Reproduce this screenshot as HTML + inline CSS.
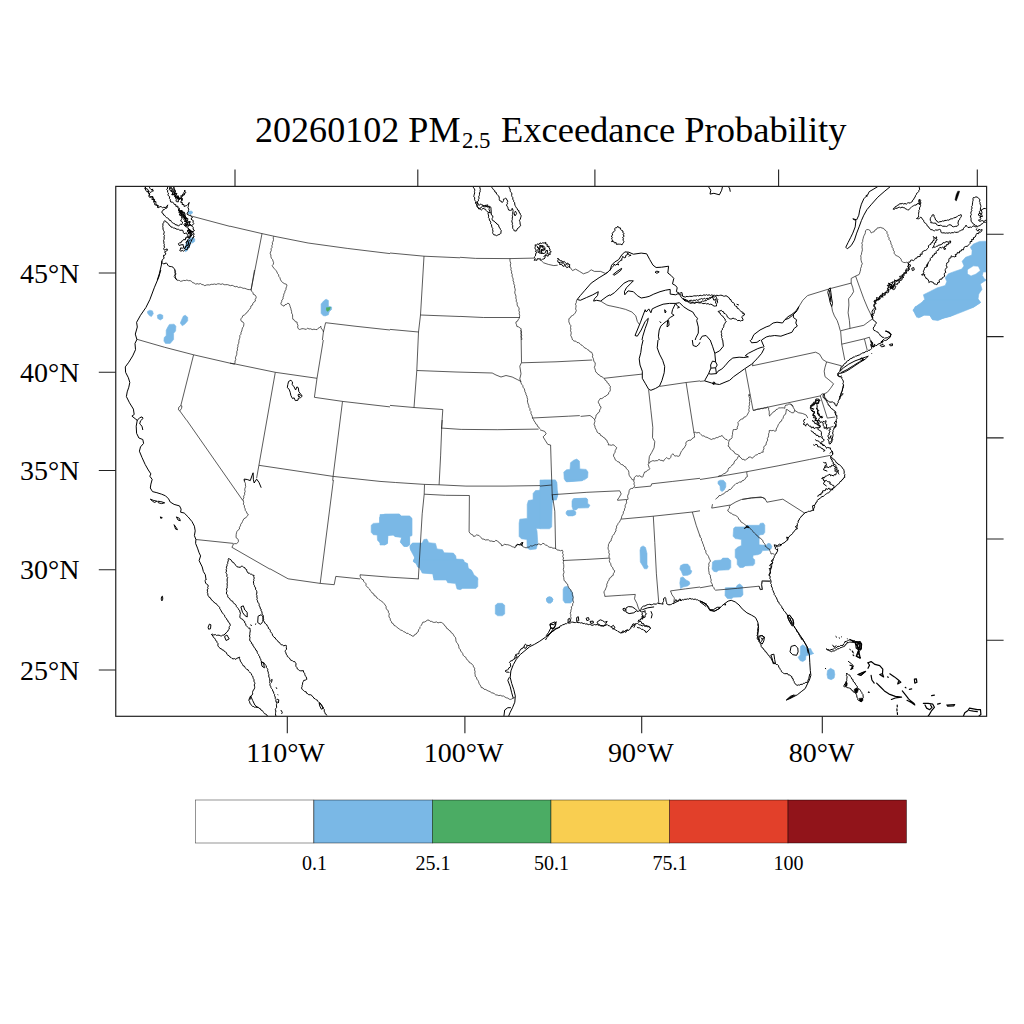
<!DOCTYPE html>
<html><head><meta charset="utf-8"><title>PM2.5 Exceedance Probability</title>
<style>
html,body{margin:0;padding:0;background:#fff;}
body{width:1024px;height:1024px;overflow:hidden;position:relative;font-family:"Liberation Serif",serif;}
svg{position:absolute;left:0;top:0;}
text{font-family:"Liberation Serif",serif;fill:#000;}
</style></head><body>
<svg width="1024" height="1024" viewBox="0 0 1024 1024">
<defs><clipPath id="fr"><rect x="115.75" y="186.40" width="870.85" height="529.90"/></clipPath></defs>
<text x="255" y="142.3" font-size="36" textLength="205.5" lengthAdjust="spacingAndGlyphs">20260102 PM</text>
<text x="462" y="147.6" font-size="24" textLength="28.5" lengthAdjust="spacingAndGlyphs">2.5</text>
<text x="501" y="142.3" font-size="36" textLength="345.5" lengthAdjust="spacingAndGlyphs">Exceedance Probability</text>
<g clip-path="url(#fr)">
<g fill="#7ab8e6" stroke="#7ab8e6" stroke-width="0.6" stroke-linejoin="round">
<path d="M188.1 211.2L191.5 211.1L193.0 212.5L191.0 214.2L188.4 214.0Z"/>
<path d="M189.6 238.6L193.0 237.6L194.9 239.1L194.6 241.5L192.5 243.0L190.5 242.5L190.5 244.9L188.6 247.4L187.1 250.8L185.2 251.8L184.7 248.4L185.7 244.5L187.1 240.5Z"/>
<path d="M147.5 311.4L149.8 310.2L152.5 310.9L153.3 313.8L151.4 316.6L149.4 315.6L147.5 313.0Z"/>
<path d="M157.3 315.3L160.0 314.1L162.8 315.3L162.8 318.4L160.3 320.0L157.7 318.4Z"/>
<path d="M183.4 316.1L185.3 315.3L187.7 317.3L187.7 320.8L185.0 323.9L182.3 325.8L180.3 323.1L181.9 319.2Z"/>
<path d="M169.4 324.4L174.1 324.2L175.9 326.2L175.6 330.9L173.6 333.3L173.6 339.5L170.2 343.4L165.5 343.4L163.9 341.1L164.2 337.5L166.2 335.6L166.2 330.2L167.8 327.0Z"/>
<path d="M321.1 303.9L323.8 300.8L326.1 299.2L328.4 300.5L328.4 306.2L331.6 307.0L331.6 309.4L329.2 311.7L328.4 314.8L325.3 315.9L323.0 315.6L321.1 313.3Z"/>
<path d="M986.7 241.2L979.6 241.4L973.4 244.1L970.2 247.2L972.1 250.3L971.8 255.0L965.6 257.3L962.1 261.2L964.0 265.9L961.7 269.1L954.6 271.4L948.4 273.8L945.2 277.7L946.8 281.6L945.2 285.5L937.4 287.8L929.6 291.7L923.4 294.8L924.9 300.3L917.9 305.0L913.2 309.7L915.6 315.2L918.7 317.8L924.2 315.2L929.6 315.2L932.8 319.8L939.0 319.8L945.2 317.5L951.5 315.9L957.8 313.6L965.6 310.5L973.4 307.3L980.4 302.7L978.1 298.8L978.8 294.1L982.0 289.4L980.4 283.9L985.1 280.8L987.4 280.0L987.4 241.2Z"/>
<path d="M380.0 514.5L399.5 514.2L401.1 516.1L409.7 516.1L412.0 518.4L412.0 535.6L409.7 536.4L409.7 545.0L407.3 546.6L404.2 546.2L400.3 541.9L401.9 536.9L394.8 536.4L393.3 534.8L387.8 535.3L387.5 543.4L384.7 545.0L380.0 545.0Z"/>
<path d="M410.5 545.0L412.8 543.1L422.2 543.1L423.8 539.5L426.9 539.1L428.8 542.7L435.5 543.4L437.0 548.9L442.5 549.7L444.1 552.8L453.4 553.1L455.8 555.9L456.2 559.1L462.8 559.4L464.4 562.2L467.5 563.4L468.3 568.4L471.4 570.0L473.8 574.7L477.7 577.8L477.7 580.0L433.9 580.0L433.1 573.9L422.2 573.1L419.8 567.7L417.5 566.9L416.2 563.0L413.6 561.9L414.7 557.5L412.0 552.8L410.0 548.1Z"/>
<path d="M540.0 490.3L535.5 490.6L533.1 493.4L533.1 499.7L528.4 500.5L527.2 504.4L527.2 518.4L519.8 519.2L519.1 523.1L519.1 536.4L521.4 538.8L526.9 539.5L527.2 548.1L530.0 549.7L536.2 548.9L537.8 543.4L537.0 530.9L536.2 528.6L540.0 528.6Z"/>
<path d="M570.5 462.7L573.6 460.3L576.7 459.1L579.4 461.1L579.8 468.9L586.1 469.4L588.0 472.0L587.7 477.5L584.5 479.8L580.6 480.6L571.2 481.4L566.6 481.9L564.2 479.1L563.8 472.0L566.6 469.7L570.0 469.4Z"/>
<path d="M540.0 490.0L541.6 480.6L544.7 480.2L554.8 480.2L556.9 482.2L556.9 490.0L558.0 493.9L556.4 500.0L540.0 500.0Z"/>
<path d="M573.6 500.0L574.4 498.6L586.9 498.6L587.7 500.0Z"/>
<path d="M718.0 481.4L720.3 480.2L723.4 480.3L725.8 483.0L725.8 486.9L724.2 490.0L721.9 491.6L720.3 490.0L720.0 486.1L718.0 483.8Z"/>
<path d="M923.8 300.0L920.6 304.7L915.2 306.6L913.1 310.6L915.2 313.3L916.7 317.2L920.6 316.9L923.8 314.8L930.0 315.3L932.3 319.5L937.8 320.6L942.5 318.4L950.3 316.4L958.1 312.5L965.9 309.4L973.8 307.0L980.8 302.3L978.4 300.0Z"/>
<path d="M379.5 517.5L381.1 515.2L385.0 514.1L399.1 514.1L401.4 516.2L409.2 516.2L411.6 518.3L411.6 534.7L409.2 536.2L409.2 544.1L406.9 546.4L403.8 546.4L400.6 542.5L401.9 537.5L395.2 536.6L393.6 535.0L387.8 535.5L387.3 543.3L385.0 544.8L381.1 544.1L377.5 540.2L377.2 535.0L373.3 534.7L371.2 532.3L371.2 525.3L373.3 523.4L379.5 523.0Z"/>
<path d="M420.0 543.3L412.3 543.3L410.0 546.4L410.8 550.3L413.9 553.4L414.7 558.1L413.1 561.2L416.2 563.6L418.6 567.5L420.0 567.5Z"/>
<path d="M413.3 560.0L414.8 562.3L418.8 563.1L420.3 569.4L423.4 572.8L432.8 573.3L433.6 578.0L436.7 579.5L446.1 579.5L447.7 582.7L455.5 583.4L457.0 588.9L460.2 589.7L462.5 588.4L475.8 588.4L477.8 586.6L477.8 578.8L475.8 576.9L473.4 576.4L472.7 572.5L470.3 569.7L468.0 568.6L467.2 563.9L464.1 562.3L463.8 560.0Z"/>
<path d="M495.3 605.3L497.7 603.3L502.3 603.3L504.7 605.3L504.7 613.9L502.3 615.8L497.7 615.8L495.3 613.9Z"/>
<path d="M546.4 599.1L547.7 597.5L549.5 596.9L551.6 597.5L552.8 599.4L552.3 601.4L550.5 603.0L548.4 603.0L546.9 601.4Z"/>
<path d="M540.0 480.0L555.6 480.0L556.9 484.7L557.5 495.6L556.4 498.8L553.3 500.0L552.2 503.4L551.7 526.9L549.4 528.8L540.0 528.8Z"/>
<path d="M573.1 498.8L586.1 498.0L587.7 500.3L587.7 503.4L590.0 505.3L588.4 507.8L578.3 508.1L575.9 510.0L573.1 509.7L572.0 506.6L572.0 501.1Z"/>
<path d="M567.3 510.5L573.6 510.0L575.9 512.0L575.6 514.7L572.8 515.9L568.1 515.9L566.1 514.1L566.1 512.0Z"/>
<path d="M565.0 480.0L583.0 480.0L582.2 480.8L569.7 481.6L565.8 481.2Z"/>
<path d="M640.8 547.2L643.1 545.9L645.5 547.5L647.0 553.4L647.0 564.4L648.1 566.7L647.0 568.8L644.4 568.8L642.3 565.2L640.3 562.0L640.0 550.3Z"/>
<path d="M680.6 565.6L683.8 564.1L687.7 564.1L690.0 566.7L690.3 569.8L691.9 570.9L690.8 573.8L687.7 575.3L683.0 575.6L681.4 571.4L679.8 569.1Z"/>
<path d="M680.6 577.7L683.0 576.9L686.1 580.0L689.2 581.6L690.0 583.9L687.7 585.9L683.0 587.0L680.6 588.6L679.8 583.1Z"/>
<path d="M564.2 587.0L567.3 586.2L570.0 589.4L572.0 591.7L573.1 595.6L572.8 601.1L570.5 603.0L565.0 603.0L563.1 600.3L563.1 589.4Z"/>
<path d="M546.4 598.8L547.5 597.3L549.5 596.7L551.6 597.3L552.8 599.2L552.3 601.4L550.5 603.0L548.4 603.0L546.9 601.6Z"/>
<path d="M733.6 528.4L735.2 526.9L745.3 526.9L746.9 525.3L759.4 525.3L760.2 523.4L763.3 523.0L764.8 525.3L764.8 532.3L763.3 534.4L759.1 535.0L759.1 544.8L766.4 545.3L768.0 543.3L770.3 543.8L771.9 546.4L771.1 548.8L768.8 550.3L762.5 550.6L760.9 553.4L757.8 554.7L753.1 555.3L752.8 558.1L754.7 559.7L754.7 563.6L753.1 565.6L745.3 565.9L743.0 567.5L739.8 567.5L737.2 564.4L737.2 559.7L735.2 557.3L735.2 549.5L737.5 547.2L741.4 545.6L741.4 539.4L735.2 538.6L733.1 536.2Z"/>
<path d="M712.5 562.0L714.8 560.5L721.1 560.0L722.7 558.1L728.1 558.1L730.8 560.5L730.8 567.5L728.9 569.8L718.8 570.3L716.4 571.9L713.8 571.4L712.0 569.1Z"/>
<path d="M725.3 587.8L735.9 587.5L737.5 585.0L739.8 583.9L742.5 586.2L743.0 594.8L740.9 596.9L733.6 597.2L731.2 598.8L727.3 598.4L725.0 595.6Z"/>
<path d="M800.5 646.4L802.8 644.8L805.2 646.4L806.7 648.8L810.6 648.4L812.2 651.9L813.8 653.4L810.6 654.7L805.9 655.8L805.6 659.7L802.8 661.6L800.0 660.5L798.1 657.3L800.2 655.0Z"/>
<path d="M827.5 670.6L830.6 668.3L834.1 670.3L834.8 674.5L834.1 678.1L831.2 679.7L827.8 678.4L827.0 674.5Z"/>
</g>
<g fill="#ffffff" stroke="#ffffff" stroke-width="0.3">
<path d="M967.9 269.8L973.4 266.2L978.1 266.7L979.9 270.6L975.7 273.8L971.0 275.6L967.9 273.8Z"/>
<path d="M987.4 272.2L983.5 272.5L982.8 275.3L984.6 278.4L987.4 280.0Z"/>
</g>
<g fill="#4bac64" stroke="none">
<path d="M326.1 307.5L330.8 307.0L330.0 309.4L327.7 311.7L326.1 310.2Z"/>
</g>
<g fill="#000" stroke="#000" stroke-width="0.5">
<path d="M957.8 191.2L956.2 194.8L955.1 199.5L956.2 201.1L957.4 198.0L959.0 193.3L959.6 191.2Z"/>
<path d="M786.4 700.0L790.6 696.6L795.3 695.0L792.3 697.2Z"/>
<path d="M854.1 689.4L856.6 687.8L858.4 689.4L857.5 692.2L855.9 693.4L854.4 691.6Z"/>
<path d="M859.1 698.4L862.8 698.0L862.8 700.5L861.4 702.0L859.4 700.8Z"/>
<path d="M845.8 681.6L847.3 683.1L846.9 686.2L845.0 685.9Z"/>
</g>
<g fill="none" stroke="#1a1a1a" stroke-width="0.72" stroke-linejoin="round">
<path d="M191.5 216.1L230.0 226.4"/>
<path d="M174.8 270.0L174.6 271.6L175.1 273.3L174.8 274.9L174.1 276.5L175.0 278.0L176.6 278.8L177.3 280.6L179.0 280.2L180.5 281.3L182.1 281.0L183.6 280.4L185.3 280.6L186.9 280.0L188.4 280.7L190.1 280.6L191.6 281.4L192.6 282.7L194.4 283.0L195.6 284.3L197.1 283.6L198.8 284.1L200.4 283.5L201.8 284.5L203.4 284.8L204.8 285.7L206.4 285.0L208.0 284.8L209.7 285.0L211.2 284.3L212.9 284.4L214.5 284.0L216.1 284.5L217.7 283.8L219.3 283.8L220.9 284.4L222.6 283.8L224.2 284.7L225.8 284.7L227.4 284.6L228.9 285.1L230.4 285.7L232.2 285.3L233.7 286.0L235.2 286.8L236.9 286.4L238.4 287.5L240.1 287.1L241.6 287.6L243.1 288.3L244.8 288.3L246.3 288.9L247.9 289.5L249.5 289.6L251.1 289.8"/>
<path d="M254.5 270.0L251.1 289.8"/>
<path d="M251.1 289.8L251.7 291.3L252.9 292.6L253.3 294.3L254.9 294.9L255.9 296.2L256.2 297.9L255.2 299.3L255.4 301.1L253.9 302.1L252.9 303.4L252.5 305.1L250.9 306.0L250.7 307.7L249.8 309.1L248.5 310.2L247.9 311.7L246.5 312.6L245.6 314.1L244.3 315.0L242.8 315.7L242.2 317.3L241.1 318.6L240.7 319.9L241.5 321.4L243.1 322.1L243.9 323.6L243.8 324.8L243.5 326.5L242.5 327.8L242.1 329.4L241.8 331.0L241.0 332.4L241.0 334.2L239.8 335.5L239.9 337.2L239.5 338.7L238.9 340.3L238.9 341.9L238.6 343.5L237.8 345.0L238.0 346.7L237.3 348.2L237.6 350.0L236.8 351.4L236.8 353.1L236.7 354.7L236.0 356.2L235.4 357.8L235.8 359.5L235.0 361.0L235.0 362.7L234.5 364.2"/>
<path d="M136.6 339.2L164.7 347.3L193.6 354.8L234.5 364.2"/>
<path d="M193.6 354.8L180.8 405.6"/>
<path d="M180.8 405.6L178.8 407.2L178.4 409.8L179.8 410.9L181.6 408.3L181.9 405.9L180.8 405.6"/>
<path d="M179.8 410.9L186.4 420.0"/>
<path d="M230.0 226.2L262.0 233.6L273.8 236.2L308.1 243.0L347.2 248.4L390.0 253.6"/>
<path d="M262.0 233.6L251.1 289.8"/>
<path d="M273.8 236.2L273.2 237.8L273.5 239.5L273.2 241.1L272.3 242.5L272.6 244.2L271.8 245.7L272.1 247.4L271.0 248.8L271.3 250.5L270.5 252.0L270.2 253.6L270.9 255.0L270.9 256.7L271.4 258.3L272.6 259.6L273.0 261.1L273.6 262.6L273.3 264.3L272.2 265.6L272.9 266.9L273.9 268.2L275.0 269.4L276.1 270.6L276.9 271.9L277.5 273.5L278.6 274.7L278.8 276.4L279.9 277.6L280.3 279.2L280.9 280.7L282.2 281.8L283.3 283.1L284.8 283.8L286.3 284.2L287.0 285.0L286.6 286.5L286.0 288.0L285.9 289.7L284.9 291.0L284.7 292.7L283.8 294.0L283.7 295.7L283.0 297.2L283.1 298.9L281.8 300.1L281.7 301.8L280.8 303.2L281.3 304.7L282.8 305.5L284.0 306.2L285.0 304.7L286.7 304.3L287.8 303.1L289.2 303.8L289.8 305.4L290.2 306.8L290.8 308.3L291.1 309.9L291.6 311.4L291.6 313.1L292.5 314.5L292.6 316.1L292.6 317.7L292.9 319.3L294.5 320.2L295.3 321.7L297.1 322.1L297.2 323.8L298.0 325.3L297.6 327.0L298.2 328.6L299.6 329.5L300.3 329.3L301.9 328.7L303.3 328.7L304.9 329.1L306.3 329.4L307.6 328.1L309.0 329.0L310.7 328.8L312.2 329.6L313.9 329.2L315.4 329.5L317.1 329.6L318.1 328.3L319.6 327.5L320.8 326.2L321.0 327.8L321.8 329.3L323.1 330.4L323.4 332.0"/>
<path d="M325.6 322.7L323.4 332.0L322.4 340.0"/>
<path d="M325.6 322.7L355.0 326.2L390.0 330.0"/>
<path d="M230.0 363.1L234.2 363.8L275.3 372.3L317.0 378.3"/>
<path d="M275.3 372.3L258.9 465.3L256.6 478.3"/>
<path d="M323.3 340.0L317.0 378.3L314.4 397.3"/>
<path d="M314.4 397.3L342.5 401.4L390.0 406.9"/>
<path d="M342.5 401.4L333.1 476.4L332.7 480.6"/>
<path d="M258.9 465.3L333.1 476.4L380.0 481.4"/>
<path d="M186.6 420.0L242.8 500.5"/>
<path d="M244.7 480.2L244.6 481.8L245.4 483.3L245.4 485.0L245.7 486.6L245.0 488.2L244.7 489.8L245.2 491.5L244.5 493.0L244.7 494.7L243.6 496.1L243.9 497.9L242.9 499.3L243.3 500.9L243.7 502.5L243.3 504.2L244.4 505.6L244.4 507.4L245.2 508.8L245.3 510.5L246.5 511.8L246.9 513.4L248.3 514.4L247.8 515.5L246.6 516.6L245.6 518.0L244.0 518.6L243.2 520.0L242.5 521.5L241.8 523.0L240.7 524.2L240.5 525.9L239.4 527.2L239.5 529.0L238.0 530.1L237.0 531.3L236.5 532.8L236.2 534.4L236.1 536.0L236.0 537.6L237.4 538.5L238.2 539.7L238.5 541.3L237.8 542.6L236.4 543.7L234.7 543.6L233.1 544.3L232.7 545.9L231.9 547.3"/>
<path d="M195.9 539.5L233.4 543.4"/>
<path d="M231.9 547.3L270.0 569.2"/>
<path d="M424.0 256.2L420.5 315.0L418.5 332.0L416.8 370.5L414.0 407.5"/>
<path d="M390.0 329.4L418.5 332.0"/>
<path d="M390.0 253.0L424.0 256.2L460.0 257.8"/>
<path d="M420.5 315.0L460.0 316.5"/>
<path d="M416.8 370.5L456.0 372.0L492.2 373.0L496.0 375.0L501.0 377.0L506.0 375.5L512.2 377.0L517.2 379.5L520.5 381.2"/>
<path d="M390.0 405.4L414.0 407.5L442.8 409.5"/>
<path d="M442.8 409.5L441.5 428.8"/>
<path d="M521.0 330.0L521.5 362.5"/>
<path d="M521.5 362.5L519.8 366.2L521.0 373.8L519.8 378.8L521.0 382.0"/>
<path d="M521.5 362.8L556.0 361.8L592.2 360.0"/>
<path d="M520.5 381.2L521.0 382.8L521.7 384.3L522.8 385.5L523.0 387.2L524.1 388.5L524.7 390.0L524.9 391.7L525.8 393.1L526.0 394.7L526.9 396.1L527.1 397.7L527.7 399.3L527.4 401.0L527.7 402.6L528.2 404.1L528.8 405.6L528.9 407.3L530.0 408.7L529.9 410.4L531.1 411.7L530.9 413.4L531.7 414.9L532.3 416.4L532.5 418.1L533.5 419.3L534.0 420.9L535.1 422.1L535.6 423.7L537.1 424.6L537.5 426.4L539.0 427.3L539.8 428.8"/>
<path d="M532.2 418.0L568.5 416.2L579.8 415.6"/>
<path d="M460.0 257.3L475.6 258.4L510.0 258.6L534.2 258.1"/>
<path d="M541.2 260.5L543.6 262.8L548.3 264.4L553.8 265.6L557.7 265.2"/>
<path d="M570.2 267.5L572.5 270.6L575.6 269.1L579.5 271.4L583.4 273.8L588.1 272.2L591.2 269.8L594.4 271.4L600.6 271.4L605.3 273.4L607.7 272.2"/>
<path d="M510.0 258.6L509.9 260.2L510.2 261.8L510.8 263.3L510.3 265.0L510.5 266.6L511.2 268.1L510.8 269.8L511.7 271.3L511.4 273.0L512.3 274.4L512.0 276.1L512.7 277.6L513.2 279.1L513.0 280.8L513.9 282.2L513.7 283.9L514.7 285.3L514.4 287.0L515.0 288.6L515.3 290.1L514.8 291.8L514.9 293.4L515.6 294.9L516.0 296.5L515.8 298.1L516.4 299.6L516.2 301.3L517.2 302.8L517.1 304.4L517.5 306.0L518.6 307.3L519.2 308.8L518.8 310.5L519.5 312.1L519.2 313.7L519.7 315.3L519.5 316.9L519.3 318.4L518.1 319.5L517.6 321.1L516.0 321.9L515.9 323.2L516.5 324.7L516.9 326.5L518.6 326.8L519.8 328.0L521.3 328.8L520.8 330.4L521.6 332.0L521.1 333.6L521.8 335.2L521.1 336.8L521.8 338.4L521.7 340.0"/>
<path d="M460.0 316.4L483.4 317.5L519.7 317.5"/>
<path d="M577.2 299.5L576.4 300.9L576.3 302.7L575.4 304.1L576.1 305.7L575.9 307.3L575.6 308.9L576.3 310.5L575.7 312.1L575.1 313.1L574.0 314.5L572.7 315.4L571.2 316.1L570.5 317.6L568.9 318.6L568.9 320.2L568.8 321.8L569.4 323.1L570.0 324.7L571.0 325.8L570.5 327.4L570.9 329.1L570.5 330.7L571.2 332.3L571.1 333.9L570.7 335.5L571.5 336.9L572.1 338.4L572.5 340.0"/>
<path d="M600.6 301.1L606.9 305.0L610.0 305.9"/>
<path d="M610.0 305.8L619.4 307.8L625.6 309.4L631.9 312.0L635.8 315.9L637.3 321.4L639.4 324.5"/>
<path d="M798.9 306.6L802.8 300.3L807.5 295.6L830.2 288.6L851.2 283.1"/>
<path d="M851.2 283.1L851.2 278.4L855.6 276.1L859.1 274.5"/>
<path d="M859.1 274.5L859.7 273.1L860.1 271.5L860.6 270.0L860.6 268.3L861.4 266.8L861.5 265.2L862.4 263.8L861.6 262.2L861.2 260.6L860.9 259.1L861.0 257.4L860.7 255.8L861.5 254.3L861.6 252.7L862.1 251.2L862.4 249.6L862.1 247.9L862.0 246.3L862.4 244.7L861.7 243.1L862.7 241.6L862.7 239.9L863.2 238.4L863.5 236.8L864.2 235.3L865.0 233.9L865.4 232.4L865.5 230.7L866.8 229.6L868.5 229.6L869.7 230.2L870.5 231.5L871.3 233.0L872.5 232.2L874.2 231.7L874.9 230.1L876.5 229.4L877.3 227.9L878.9 227.8L880.5 227.4L882.0 228.0L883.6 228.4L884.6 229.8L886.0 230.7L887.0 231.8L887.0 233.5L888.1 234.8L887.9 236.6L889.2 237.9L889.0 239.6L890.3 240.9L890.8 242.4L891.0 244.1L892.0 245.4L891.9 247.1L893.1 248.4L893.2 250.1L894.3 251.4L894.1 253.2L895.0 254.6L896.1 255.5L897.6 256.2L898.9 256.9L900.1 257.9L901.1 259.2L901.5 260.8L902.6 262.1L903.6 262.4L905.3 262.6L906.8 262.2L908.3 262.8"/>
<path d="M855.6 276.1L859.8 287.8L863.8 298.8L867.7 308.1L870.8 314.4L872.3 317.5"/>
<path d="M851.2 283.1L852.8 287.8L853.6 291.7L851.2 295.6L848.6 298.8L848.9 305.0L848.1 312.8L849.4 320.6L850.0 328.4"/>
<path d="M831.7 306.6L832.5 311.2L834.4 315.9L837.2 320.6L838.8 325.3L840.3 330.8"/>
<path d="M840.6 330.8L850.0 328.4L863.8 325.3L870.0 320.6L872.3 319.1"/>
<path d="M442.2 420.0L441.7 428.1L440.6 455.9L439.1 484.8"/>
<path d="M441.7 428.1L461.2 429.4L497.2 429.7L538.6 429.1"/>
<path d="M380.0 481.4L395.6 482.5L424.5 484.4L439.1 484.8L465.9 486.1L505.0 486.1L540.0 485.6"/>
<path d="M424.5 484.4L424.2 494.2"/>
<path d="M424.2 494.2L445.6 495.3L469.4 495.5"/>
<path d="M469.4 495.5L469.1 531.7"/>
<path d="M424.2 494.2L422.2 513.8L420.3 545.0L418.3 579.1"/>
<path d="M469.1 531.7L469.9 533.2L471.1 534.2L472.8 534.9L473.5 536.4L475.2 536.1L476.5 534.9L478.2 535.3L479.1 535.5L480.2 536.7L481.4 537.9L482.3 539.1L483.9 539.1L485.4 540.0L487.0 539.8L488.6 539.9L489.9 541.1L491.8 541.0L493.0 541.5L494.7 541.5L495.9 540.2L497.3 541.1L498.7 541.9L499.6 543.3L501.2 544.1L501.6 545.8L503.3 545.4L504.4 544.1L506.1 544.7L507.7 544.7L509.3 545.2L510.8 545.8L512.2 546.7L513.8 547.1L515.0 548.0L515.4 546.3L516.3 545.0L517.7 544.6L519.4 544.6L521.1 545.1L521.8 543.4L522.7 542.8L522.3 544.4L522.2 546.0L523.2 546.8L524.7 547.4L526.1 547.9L527.5 547.2L529.2 547.1L530.5 545.8L532.2 546.1L533.7 545.4L535.2 544.7L536.8 544.9L538.3 544.0L540.0 544.2"/>
<path d="M572.8 340.0L574.0 341.1L575.8 341.1L577.0 342.5L578.7 342.7L580.0 343.7L581.0 344.9L582.5 345.6L583.7 346.8L584.7 348.0L586.4 348.5L587.5 349.7L589.0 350.3L589.9 351.8L591.6 352.2L592.3 353.7L592.8 355.2L592.4 356.9L593.3 358.4L593.6 359.8L593.9 361.6L595.2 362.6L595.2 364.2L595.0 365.8L594.3 367.3L594.9 368.7L595.4 370.3L595.7 371.9L596.9 372.8L597.9 374.3L599.4 374.9L600.4 376.3L602.0 376.7L603.2 377.8L604.6 378.7L605.2 380.3L606.7 381.1L607.2 382.8L608.7 383.6L609.2 385.3L610.5 386.4L610.0 388.0L610.4 389.6L610.0 391.2L608.8 392.4L608.5 394.1L607.1 394.9L606.0 396.1L604.4 396.6L603.2 397.7L601.8 398.6L600.1 398.6L599.4 399.8L598.4 401.3L598.4 402.9L599.5 404.2L599.8 405.9L601.1 406.9L600.6 408.6L599.6 410.0L599.6 411.7L598.2 412.6L597.4 414.1L596.0 415.1L595.9 416.7L595.4 418.3L594.6 419.7L595.0 421.4L594.4 422.9L594.1 424.5L594.9 426.0L595.1 427.6L595.9 429.1L596.6 430.3L597.1 432.1L598.3 433.2L600.0 433.7L600.6 435.5L602.2 436.0L603.2 437.3L604.8 438.0L605.5 439.5L607.0 440.3L607.3 442.0L608.4 443.3L608.3 445.0L609.7 444.9L611.4 445.3L613.0 444.7L614.4 445.4L615.5 446.6L616.7 447.6L616.1 449.1L615.2 450.5L615.1 452.2L614.2 453.6L613.5 455.0L613.7 456.6L614.7 457.9L615.0 459.6L616.4 460.5L617.5 461.7L619.2 462.0L620.1 463.6L621.4 464.5L623.0 464.9L624.1 466.3L625.7 466.9L626.2 468.5L627.5 469.5L628.5 470.8L628.9 472.5L628.9 474.1L629.4 475.7L630.3 477.0L631.3 478.2L632.1 479.7L633.8 479.8"/>
<path d="M604.1 378.3L622.8 376.2L642.3 374.1"/>
<path d="M580.6 416.4L590.0 415.5L593.1 417.8L594.7 419.7"/>
<path d="M648.6 389.7L650.9 410.3L652.8 427.5L652.5 437.7L654.8 441.6L654.1 447.8L651.7 452.5L649.4 456.4L648.6 463.4"/>
<path d="M659.5 386.4L686.1 382.5L700.0 380.9"/>
<path d="M686.1 382.5L693.9 432.2"/>
<path d="M700.0 433.0L698.4 432.5L696.8 432.9L695.3 432.2L693.7 432.5L694.5 434.0L694.4 435.6L694.6 437.2L693.1 437.9L691.8 438.9L690.7 440.3L689.1 440.2L687.6 441.0L686.5 441.6L685.8 443.1L686.0 444.8L685.1 446.2L684.5 447.7L683.1 448.7L682.5 450.2L681.3 451.3L680.7 452.8L680.1 454.3L679.5 455.8L678.2 456.4L676.7 455.8L675.0 456.1L673.7 455.0L672.8 453.7L672.2 454.4L671.1 455.6L670.8 457.3L669.8 458.6L669.0 459.0L667.4 458.3L666.6 457.5L665.5 458.7L664.3 459.7L663.5 461.2L662.0 460.4L660.3 460.3L659.0 459.3L657.6 460.6L655.9 460.7L654.4 461.0L652.9 460.6L651.7 461.2L650.2 461.8L649.2 463.2L648.2 464.4L648.7 466.0L649.1 467.5L650.0 468.6L648.9 469.7L647.3 470.3L646.3 471.7L644.6 472.0L644.1 473.4L643.4 474.9L643.0 476.5L642.6 477.1L641.0 476.8L639.8 475.7L638.0 476.3L636.4 475.7L635.3 476.5L634.2 477.8L634.2 479.5L633.6 481.0L634.3 482.5L633.9 484.1L634.7 485.7L634.1 487.0L633.0 488.3L631.3 488.5L629.9 489.2L629.2 490.5L629.0 492.1L628.7 493.7L627.8 495.2L627.6 496.8L628.0 498.5L627.5 500.0"/>
<path d="M634.5 487.7L650.9 486.1L651.7 483.8L672.8 481.4L700.0 478.3"/>
<path d="M552.5 494.7L586.9 492.3L619.7 490.8L621.2 493.9L618.9 497.8L617.3 500.0"/>
<path d="M540.0 429.8L544.7 431.4L546.2 433.8L543.1 436.9L545.5 440.8L547.8 444.4L550.6 445.0L551.2 465.0L552.2 494.7L552.5 500.0"/>
<path d="M540.0 486.1L551.7 485.0"/>
<path d="M700.0 381.4L704.7 380.9"/>
<path d="M745.3 368.9L753.1 410.3"/>
<path d="M752.3 365.8L753.1 363.4"/>
<path d="M752.3 365.8L778.1 360.3L815.6 352.2L819.5 354.1L822.7 359.5L826.6 361.9L825.0 367.3L824.2 371.2L825.0 376.7L828.9 379.8L833.6 383.8L830.5 388.4L827.3 392.3L824.2 393.9"/>
<path d="M826.6 361.9L841.4 365.8L839.4 372.0"/>
<path d="M753.1 410.3L785.9 403.3L820.3 395.9L821.9 393.9L824.2 393.9"/>
<path d="M820.3 395.9L827.3 418.1L835.2 417.0"/>
<path d="M749.2 395.0L749.0 396.6L749.7 398.2L749.4 399.9L749.8 401.5L749.3 403.1L749.6 404.8L748.9 406.3L749.4 408.0L748.7 409.6L749.2 411.3L748.4 412.6L747.7 414.1L746.8 415.5L745.7 416.8L743.9 417.2L743.1 418.8L741.3 419.2L740.0 420.0L738.9 421.4L737.9 422.4L738.3 424.1L738.0 425.7L737.2 427.2L737.3 428.9L736.2 429.5L734.5 429.5L733.3 429.6L732.9 431.2L732.5 432.8L732.6 434.5L732.0 436.0L732.1 437.7L731.0 439.0L729.4 439.7L729.0 441.3L728.5 442.8L728.7 444.5L728.0 446.1L729.5 447.0L730.0 448.8L731.4 449.7L732.5 450.8L734.0 451.6L734.7 453.3L736.2 454.1L737.8 454.6L739.1 455.6"/>
<path d="M748.6 394.7L749.4 394.1L750.0 395.0L749.2 395.8L748.6 394.7"/>
<path d="M739.1 455.6L738.0 456.8L737.4 458.4L736.5 459.7L735.0 460.6L734.2 462.0L733.8 463.8L732.3 464.6L731.5 466.0L730.3 467.2L728.8 468.0L728.1 469.5L727.8 471.2L726.2 472.0L725.3 473.4L723.6 473.8L722.4 474.7L721.0 475.7L719.3 475.7L718.0 476.7"/>
<path d="M700.0 433.4L701.1 434.7L702.3 435.8L704.0 435.9L705.4 437.0L707.0 437.3L708.4 438.1L709.9 438.8L711.4 439.5L713.0 438.7L714.7 438.7L716.1 437.6L717.8 437.6L719.2 436.5L720.8 436.3L722.1 435.4L723.0 436.8L724.1 438.0L725.3 439.1L727.0 439.6L728.1 440.8"/>
<path d="M739.1 455.6L739.8 457.0L741.2 458.0L742.2 459.4L743.9 459.4L745.2 460.4L746.3 459.1L747.9 458.4L748.8 457.0L750.6 457.1L752.1 458.2L753.4 457.4L754.4 456.1L755.7 455.1L757.3 454.7L758.5 453.5L760.3 453.5L761.4 452.2L763.2 452.2L763.1 450.3L764.0 448.8L763.7 447.2L764.7 445.7L766.1 444.8L766.2 443.1L766.8 441.6L767.7 440.1L767.3 438.4L768.3 437.0L768.6 435.4L768.6 433.7L769.3 432.3L769.2 430.6L770.2 430.4L771.8 430.7L773.6 430.4L774.9 431.3L776.2 430.7L776.2 429.0L777.0 427.6L777.8 426.2L778.2 424.6L779.3 423.5L780.0 421.9L781.5 421.1L781.9 419.6L783.1 418.3L783.4 416.7L784.1 415.2L785.6 414.2L785.9 412.6L786.2 411.0L786.2 409.5L787.8 409.8L789.0 411.1L790.4 411.8L791.7 412.7L793.5 412.8L793.8 412.3L794.7 410.9L794.4 409.2L793.4 407.9L793.0 406.2L792.1 404.9L790.6 404.1"/>
<path d="M753.1 410.3L754.8 410.3L756.3 409.5L757.9 409.0L759.6 409.1L761.1 408.3L762.9 408.7L764.4 407.9L766.1 408.1L767.6 407.2L768.7 408.0L768.6 409.7L769.2 411.2L769.3 412.9L769.2 414.6L769.7 416.2L770.1 415.4L771.1 414.1L772.5 413.1L773.5 411.7L775.1 411.1L776.0 409.6L777.5 409.1L778.8 407.9L780.6 407.9L781.8 407.8L783.6 407.9L784.8 408.3L784.9 406.6L785.7 405.1L787.3 405.0L788.8 404.0L790.6 404.1L791.6 405.5L793.0 406.4"/>
<path d="M794.5 410.3L798.4 412.7L802.3 413.4L806.2 415.0L807.8 418.1"/>
<path d="M700.0 479.5L718.0 476.7L746.9 471.7L778.1 465.8L809.4 459.5L830.5 455.3"/>
<path d="M746.9 471.7L746.8 473.4L747.2 475.0L747.4 476.6L745.9 477.4L745.2 479.0L744.0 480.2L742.2 480.7L741.2 482.2L739.4 481.9L738.1 483.2L736.3 483.4L735.2 484.5L733.9 485.6L732.6 486.7L731.8 488.1L730.6 489.4L728.8 489.7L727.9 491.2L726.2 491.7L724.8 492.5L723.7 494.0L722.1 494.4L720.8 495.5L719.0 495.6L718.1 497.2L716.7 498.1L715.6 499.4"/>
<path d="M742.2 499.4L751.6 497.8L762.5 497.5L765.6 499.4"/>
<path d="M840.6 330.9L841.7 344.2L844.8 360.2"/>
<path d="M841.7 344.2L864.4 338.8L869.4 337.2"/>
<path d="M864.4 338.8L867.2 350.0"/>
<path d="M869.4 337.2L870.9 342.2"/>
<path d="M333.4 480.0L320.2 583.4"/>
<path d="M270.0 568.8L288.1 578.8L320.2 583.4L334.2 584.7"/>
<path d="M334.2 584.7L335.8 576.4L360.0 578.9"/>
<path d="M360.0 574.8L389.7 577.2L418.6 578.9"/>
<path d="M360.0 574.8L360.2 576.4L360.8 578.0L361.7 579.2L363.3 579.8L363.8 581.5L364.9 582.6L366.1 583.8L366.0 585.6L367.2 586.9L368.3 588.0L369.5 589.0L370.2 590.6L371.4 591.7L372.2 593.1L373.8 593.9L374.2 595.6L376.0 596.2L376.7 597.8L378.1 598.6L379.2 599.7L380.6 600.6L381.9 601.5L383.2 602.5L384.2 603.7L385.2 605.1L386.1 606.4L386.1 608.2L386.8 609.6L388.3 610.7L388.4 612.5L389.4 613.8L388.9 615.5L389.1 617.1L390.2 618.5L390.3 620.2L391.4 621.5L391.8 623.0L393.4 623.8L394.0 625.4L395.6 626.1L396.8 627.1L398.1 628.2L399.4 629.1L400.7 630.1L402.3 630.5L403.5 631.6L405.1 632.1L406.3 633.3L408.1 633.3L409.3 634.5L410.9 634.9L412.1 636.1L413.8 636.1L414.7 634.5L416.3 634.0L417.0 632.5L418.4 631.5L418.5 629.8L419.8 628.5L420.0 626.9"/>
<path d="M420.3 626.4L421.4 625.2L422.1 623.8L422.8 622.2L424.5 622.0L425.9 621.3L427.2 620.2L429.0 620.1L430.1 621.3L431.7 621.4L433.2 622.3L434.8 622.4L436.5 621.9L438.0 622.9L439.7 622.4L441.3 622.4L442.5 623.2L443.9 624.2L444.6 625.7L446.0 626.6L446.6 628.3L448.1 629.0L449.0 630.4L450.5 631.1L451.2 632.7L452.7 633.5L453.5 634.9L454.3 636.4L455.5 637.5L455.8 639.1L455.9 640.8L456.5 642.3L457.6 643.6L458.4 645.0L458.8 646.5L459.0 648.2L460.2 649.4L460.7 651.0L461.7 652.2L462.7 653.5L463.1 655.2L464.2 656.3L465.7 657.2L466.4 658.7L467.3 660.1L468.7 661.0L469.4 662.6L470.9 663.2L472.1 664.2L473.2 665.5L473.5 666.9L474.7 668.2L474.5 669.9L475.1 671.5L474.8 673.1L475.2 674.7L475.2 676.3L476.5 677.4L476.8 679.1L477.9 680.3L478.6 681.7L479.0 683.3L479.8 684.7L480.8 686.0L481.3 687.6L483.0 687.9L484.1 689.3L485.8 689.5L487.1 690.4L488.6 691.1L490.1 691.6L491.3 692.7L493.0 693.0L494.4 693.7L495.6 694.8L497.2 695.0L498.8 695.6L500.4 695.3L502.0 696.1L503.6 696.0L504.9 697.0L506.3 697.8L507.9 698.1L509.2 699.2L510.9 699.4L511.9 698.9L513.3 698.0L514.8 697.5"/>
<path d="M829.8 427.5L833.5 426.2"/>
<path d="M552.2 494.1L554.8 511.2L555.6 548.8"/>
<path d="M617.3 500.3L626.7 499.5"/>
<path d="M626.7 499.5L626.4 501.1L626.6 502.8L625.8 504.2L625.1 505.7L625.3 507.4L624.5 508.8L624.4 510.5L623.3 511.8L623.3 513.5L622.5 514.9L621.7 516.4L621.5 518.0L620.8 519.3L620.1 520.8L619.3 522.2L618.2 523.3L617.6 524.8L616.5 526.1L616.6 527.8L615.8 529.2L616.0 530.9L615.0 532.1L614.4 533.7L613.5 535.0L612.2 536.1L612.1 537.7L611.3 539.1L611.1 540.9L609.7 541.8L609.1 543.4L608.4 544.7L608.4 546.3L608.0 547.9L608.3 549.5L609.1 550.9L608.7 552.6L609.5 554.1L609.0 555.8L609.1 557.4L610.0 558.9L609.3 560.6L609.6 562.1L610.7 563.5L610.9 565.1L611.6 566.6L612.8 567.7L613.1 569.4L614.7 570.7L614.3 572.3L613.3 573.7L613.2 575.4L611.6 576.1L610.8 577.6L609.3 578.4L609.0 580.1L607.9 581.3L607.5 582.9L606.7 584.3L606.9 586.0L606.2 587.5L605.6 588.8L605.1 590.4L603.9 591.5L604.2 593.3L604.7 594.8L604.8 596.4"/>
<path d="M621.2 519.1L653.3 516.2L692.3 512.0L700.0 510.8"/>
<path d="M653.3 516.2L654.8 542.5L656.4 573.8L658.8 603.4"/>
<path d="M692.3 512.0L696.2 525.3L700.0 536.2"/>
<path d="M563.1 560.5L586.9 559.4L609.5 558.1"/>
<path d="M540.0 544.8L541.6 544.5L542.9 543.2L544.2 543.9L545.5 545.0L547.2 545.4L548.3 546.7L549.8 547.3L551.5 547.4L552.9 548.2L554.6 548.2L556.2 548.8L557.3 550.1L559.0 550.1L560.6 550.8L562.2 550.1L562.9 551.5L562.5 553.2L563.4 554.7L562.7 556.4L563.6 558.0L563.0 559.6L563.6 561.2L563.2 562.9L563.7 564.5L563.8 566.1L563.7 567.7L563.3 569.4L563.8 571.0L564.0 572.6L563.3 574.2L563.3 575.9L563.8 577.5L563.9 579.1L564.1 580.6L565.5 581.5L566.2 583.1L567.6 584.1L567.9 585.8L568.6 587.3L569.4 588.7L570.8 589.8L571.2 591.4L572.4 592.7L572.3 594.4L572.7 595.8L573.3 597.5L572.8 599.1L573.0 600.7L573.6 602.3L572.6 603.8L572.7 605.6L571.3 606.8L571.6 608.5L570.9 610.1L570.9 611.7L570.2 613.2L570.9 614.9L570.6 616.6L571.2 618.1L570.7 619.4L570.2 621.1L568.9 622.2"/>
<path d="M604.8 596.4L621.2 595.3L635.3 594.4L634.5 598.8L636.9 603.4L638.4 608.1L640.0 611.2"/>
<path d="M670.5 590.9L685.3 588.9L700.0 587.0"/>
<path d="M670.5 590.9L672.0 594.8L674.4 598.0L673.6 603.4"/>
<path d="M711.7 508.1L730.5 505.0"/>
<path d="M712.5 504.2L711.7 508.1"/>
<path d="M730.5 505.0L735.9 501.9L741.4 499.5L751.6 498.0L760.9 496.9L764.8 498.4L766.9 502.2L782.8 499.2L804.7 513.1"/>
<path d="M730.5 505.0L729.4 506.3L729.5 508.1L728.2 509.3L727.7 510.8L729.0 511.7L730.1 513.0L731.6 513.4L732.9 514.6L734.5 515.1L735.7 515.5L737.1 516.5L738.3 517.6L738.7 519.3L740.2 520.2L740.8 521.8L742.2 522.6L743.6 523.5L744.8 524.5L746.1 525.5L747.5 526.2L749.0 527.0L749.8 528.4L751.2 529.3L752.3 530.5L753.2 531.9L754.3 533.0L755.7 534.0L756.5 535.4L758.0 536.2L758.8 537.7L760.5 538.1L761.5 539.5L762.8 540.4L763.1 542.1L764.3 543.3L765.2 544.7L765.3 546.4L766.9 547.2L767.8 548.6L769.5 549.1L769.8 550.8L770.6 552.2L771.0 554.0L772.7 553.6L774.2 554.2"/>
<path d="M700.0 535.5L700.1 537.1L701.5 538.4L701.3 540.2L702.3 541.6L702.6 543.2L703.4 544.6L703.7 546.3L704.6 547.7L704.5 549.5L705.9 550.6L705.8 552.4L706.5 553.9L707.7 555.2L708.6 556.6L709.0 558.1L709.8 559.6L710.5 561.1L709.3 562.6L708.7 564.1L709.0 565.8L708.5 567.4L708.7 569.1L708.7 570.7L709.1 572.2L709.1 573.9L710.3 575.2L710.4 576.9L710.7 578.4L711.3 580.0L710.8 581.7L711.6 583.1L712.4 584.5L712.6 586.3L713.8 587.5L714.3 589.1L715.6 590.2"/>
<path d="M700.0 587.8L712.5 585.5"/>
<path d="M715.6 590.2L737.5 588.3L759.1 586.2L760.2 589.4L762.5 589.4L761.7 584.7L762.5 581.2L770.3 581.6"/>
<path d="M759.1 586.2L760.3 589.7L762.2 589.4L761.4 584.7L761.9 580.8L770.8 580.8"/>
</g>
<g fill="none" stroke="#000" stroke-width="1" stroke-linejoin="round">
<path d="M165.0 220.5L164.0 221.5L163.7 222.8L162.8 223.8L163.0 225.2L162.7 226.5L163.0 227.7L163.0 229.1L163.4 230.3L164.1 231.5L164.2 232.9L163.5 234.2L164.5 235.4L164.0 236.8L164.2 238.1L164.1 239.4L163.5 240.7L164.0 242.0L163.8 243.3L164.4 244.5L164.0 245.9L164.6 247.2L163.7 248.4L164.0 249.8L164.6 250.0L165.8 249.5L167.1 248.9L167.5 250.3L166.9 250.6L165.8 251.4L164.4 252.1L165.7 252.9L165.6 254.4L165.0 255.2L163.5 255.3L163.7 257.0L164.2 258.2L163.1 259.0L162.2 259.9L162.0 261.1L162.1 262.5L162.8 263.6L163.7 263.8L165.0 263.5L166.3 262.9L167.2 263.9L167.8 265.1L168.7 266.1L170.1 266.5L171.4 266.6L172.7 266.9L173.5 268.2L174.6 268.9L174.9 270.1L175.5 271.3L175.3 272.7L176.0 274.0L175.1 275.2L175.5 276.6L175.3 277.9L175.9 279.0L176.9 280.0"/>
<path d="M194.0 236.6L192.8 237.4L192.6 238.9L191.6 239.9L191.5 241.3L190.3 242.3L190.5 243.8L189.6 244.8L189.4 246.2L189.2 247.6L187.5 248.1L187.3 249.7L185.6 249.5L184.5 250.4L183.5 251.2L182.2 250.4L180.7 251.3L179.6 250.0L180.4 249.7L180.7 247.8L182.3 248.3L184.0 247.4L183.2 245.9L183.3 244.7L182.0 244.7L180.9 244.9L179.3 245.6L178.4 243.8L179.3 242.9L181.1 242.7L181.5 241.2L182.9 240.7L183.6 239.4L185.3 239.9L185.7 237.7L186.8 237.0L188.4 237.1"/>
<path d="M185.7 242.5L186.9 241.7L187.9 240.4L188.0 242.1L188.2 242.5L188.8 244.4L187.8 245.5L186.1 246.0L185.5 247.0L184.7 248.4"/>
<path d="M188.6 238.6L187.8 239.8L187.2 241.1L186.3 242.3L187.0 244.1L186.7 245.6L185.3 246.4L185.3 248.2L183.7 248.8"/>
<path d="M190.5 239.6L189.6 240.8L188.4 241.9L189.0 243.7L187.8 244.9L188.4 246.7L187.1 247.9"/>
<path d="M161.7 261.1L161.4 265.0L159.3 273.8L157.3 280.0"/>
<path d="M145.6 186.8L145.0 188.5L145.8 190.3L146.7 191.6L149.0 190.9L148.0 192.8L149.1 193.7L149.5 195.5L150.4 196.7L152.6 196.7L153.3 198.1L154.2 199.3L153.6 201.5L155.9 201.6L155.9 203.4L156.1 204.8L158.2 205.7L157.5 207.4"/>
<path d="M145.6 186.8L145.1 188.6L147.4 188.9L148.3 190.5L147.9 192.1L150.0 194.0L148.7 195.9L149.6 197.4L152.9 196.7L151.8 199.4L154.6 199.6L153.9 202.2L154.6 203.7L154.8 204.8L158.2 205.5L157.5 207.4"/>
<path d="M178.8 209.0L178.6 211.0L180.9 211.1L180.8 212.8L182.2 213.8L181.7 215.9L183.2 216.6L185.3 217.1L183.7 219.5L185.1 220.4L186.2 221.5"/>
<path d="M178.8 209.0L178.9 210.9L182.4 210.8L182.0 212.8L181.3 215.2L183.7 215.4L182.7 217.8L185.9 218.0L185.2 220.2L186.2 221.5"/>
<path d="M180.0 210.9L180.0 212.7L182.1 213.1L183.7 213.8L183.8 215.6L184.0 217.3L184.6 218.7L185.9 219.6"/>
<path d="M180.0 210.9L180.2 212.9L180.7 214.7L183.6 214.8L185.1 216.0L184.6 218.4L185.9 219.6"/>
<path d="M181.2 210.2L181.3 212.2L183.5 212.4L185.0 213.5L185.0 215.2L185.6 216.7L186.6 217.8L185.9 220.0L187.5 220.9"/>
<path d="M181.2 210.2L181.7 212.1L184.4 212.3L183.8 214.8L185.4 216.0L184.9 218.3L187.9 218.6L187.5 220.9"/>
<path d="M184.4 221.5L186.0 221.9L187.2 220.4L188.3 222.0L190.3 221.7L189.4 223.5L191.0 225.3L188.6 224.7L187.8 227.2L185.8 226.8L185.7 224.4L185.3 223.8L185.4 224.3L186.8 222.2L187.3 223.9L187.9 224.8L187.1 224.6L185.6 224.0"/>
<path d="M184.4 221.5L186.2 221.4L187.2 222.9L189.7 221.5L189.2 223.2L190.2 225.2L188.3 225.3L187.9 224.9L185.0 226.2L183.8 224.4L185.4 223.4L187.4 222.2L187.6 223.6L186.6 225.5L185.6 224.0"/>
<path d="M170.0 187.1L170.2 188.6L171.4 189.7L171.0 191.4L173.1 192.2L172.2 194.7L174.1 194.6"/>
<path d="M170.0 187.1L169.3 189.3L170.4 190.7L173.7 191.3L171.8 194.7L174.1 194.6"/>
<path d="M173.8 187.1L174.1 188.6L173.7 189.1L175.4 191.6L175.0 191.9L174.9 193.9L175.2 195.2L176.2 196.3L177.1 197.7L179.4 197.6L180.0 199.0"/>
<path d="M173.8 187.1L174.0 188.8L175.3 190.3L175.2 192.0L174.0 193.5L177.0 193.4L175.5 196.2L178.5 195.9L177.9 198.8L180.0 199.0"/>
<path d="M188.1 227.8L188.3 229.6L190.2 230.0L188.1 230.4L190.1 230.8L191.2 231.7L189.9 232.8L190.4 235.3L190.0 236.1L192.0 235.4L190.1 235.6L189.2 237.9L188.1 236.5"/>
<path d="M188.1 227.8L189.0 229.3L190.7 231.1L188.4 232.9L191.1 231.4L189.8 232.7L190.2 233.1L190.2 237.1L191.0 236.0L189.3 238.6L188.1 236.5"/>
<path d="M189.4 229.0L190.2 230.7L192.3 231.3L191.6 232.7L190.9 234.1L192.5 234.6"/>
<path d="M189.4 229.0L189.6 231.4L193.3 231.7L189.5 231.7L191.5 233.1L192.5 234.6"/>
<path d="M187.5 230.2L188.0 232.0L189.3 232.8L188.1 234.0"/>
<path d="M187.5 230.2L187.9 232.2L189.5 233.0L188.1 234.0"/>
<path d="M175.0 195.2L175.1 196.8L176.2 197.8L178.1 199.2L177.7 196.1L178.3 198.9L180.9 198.7L182.2 200.4L182.5 198.4"/>
<path d="M175.0 195.2L175.0 197.1L177.3 197.6L178.2 198.2L178.4 198.1L179.4 199.3L180.5 198.3L182.5 198.4"/>
<path d="M180.6 220.9L181.3 219.7L181.9 218.5L181.5 216.8L181.1 215.6L179.2 214.9L180.3 213.3L178.7 212.3L180.1 211.0L179.2 209.4L179.5 208.3L177.9 208.1L177.9 206.2L175.9 206.4L175.8 204.6L174.2 204.4L173.6 203.1L172.7 202.1L170.8 202.1L170.3 200.9L170.3 199.4L169.3 198.3L169.8 196.9L168.5 195.9L167.9 194.8L168.6 193.2L167.4 192.1L167.9 190.7L166.6 189.5L167.9 188.0L167.2 186.8"/>
<path d="M171.2 186.8L171.2 188.3L172.8 188.9L172.7 190.4L174.3 191.4L174.5 192.7L173.8 194.2L175.2 194.7L175.0 196.6L175.8 197.6L175.8 198.9L176.3 199.4L176.0 201.1L176.5 201.7L178.4 201.8L178.3 199.8L179.3 199.0L180.6 198.3L181.3 197.2L182.2 196.7L182.8 195.2L184.3 195.0L184.6 193.4L185.9 192.6L185.1 191.6L184.7 190.0L184.7 191.1L183.8 192.7L184.4 194.0L182.7 194.0L182.6 195.8L180.7 195.8L181.4 197.1L180.8 198.6L182.1 200.0L181.2 201.0L180.7 202.3L182.4 202.6L182.1 204.5L183.9 204.5L184.1 206.5L185.1 206.0L186.7 205.6L187.6 204.6L188.5 204.0L189.2 202.5L189.1 202.5L188.7 203.8L188.5 205.3L188.4 206.4L187.9 207.7L188.8 209.1L188.4 210.4L188.4 211.5L187.3 212.9L187.0 214.2L187.9 214.6L189.4 215.5L190.7 215.2L191.1 216.6L192.5 217.5L190.9 218.9L192.3 220.1L193.3 220.6L193.0 222.3L193.8 223.5L192.9 224.8L191.1 225.6L192.7 226.6L193.3 227.6L193.0 229.2L194.6 230.5L192.8 231.5L192.8 232.8L194.2 233.8L193.5 235.5L194.1 236.8L193.1 237.8"/>
<path d="M149.4 187.1L150.0 188.4L151.3 189.7L153.1 189.3L151.3 189.7L152.5 190.0L153.5 191.0L152.2 191.1L150.9 192.5L149.4 191.8"/>
<path d="M157.5 207.4L158.9 207.6L160.0 206.5L161.4 206.8L162.5 207.7L163.7 207.3L165.1 207.5L166.5 207.1L167.0 205.9L168.1 205.1L167.4 205.3L167.2 206.6L167.0 208.0L165.7 208.3L164.7 209.3L163.3 209.6L162.8 210.9L161.9 211.4L161.9 212.8L163.2 213.6L163.6 215.0L164.9 215.5L165.6 216.7L166.5 217.7L167.8 218.1L168.8 218.9L169.4 220.3L170.9 220.5L171.5 221.8L172.4 222.8L173.6 223.4L174.9 223.9L175.7 225.0L177.3 224.9L178.4 226.2L179.3 225.1L180.4 224.3L181.9 224.5L182.3 223.4L182.6 222.1L181.8 221.5L180.6 220.9"/>
<path d="M164.7 220.6L165.5 221.6L166.8 222.1L167.5 223.2L168.7 223.9L169.1 225.2L170.4 225.9L171.0 227.1L172.4 227.2L173.5 228.0L174.9 228.1L176.0 228.9L177.2 229.3L178.6 229.3L179.7 230.2L181.0 230.3L182.4 230.0L183.1 231.1L183.3 232.4L184.0 233.6L185.3 233.3L186.5 232.9L187.1 234.1L187.6 235.1L188.3 236.3L187.2 237.2L186.3 238.2L185.0 238.4"/>
<path d="M160.8 270.0L158.8 277.0L154.5 287.2L149.8 299.7L145.9 307.5L140.5 315.3L136.6 322.3L137.3 327.0L135.3 334.1L136.9 339.5L135.0 343.4L135.5 349.7L132.7 355.9L128.8 362.2L125.3 366.9L125.6 372.3L128.4 377.8L129.8 382.5L128.8 387.2L127.2 391.9L126.4 396.6L129.5 402.8L133.4 409.1L134.2 414.5L131.9 416.1L135.8 419.2L137.3 420.3"/>
<path d="M137.3 420.3L139.7 417.7L142.0 416.9L143.1 418.4L140.5 420.8L139.7 423.9L142.0 426.2L142.8 430.0"/>
<path d="M244.4 481.4L244.1 479.1L247.2 479.5L250.3 480.6L251.9 475.9L253.1 472.8L253.4 479.8L254.2 483.0L256.6 479.1L258.9 482.2L261.2 487.7"/>
<path d="M288.6 381.4L290.9 380.3L292.5 381.9L292.2 384.5L294.1 386.9L295.6 390.0L296.9 386.9L298.3 387.7L298.8 391.6L300.6 393.9L302.2 396.2L300.3 397.8L298.4 398.1L298.0 400.2L295.3 400.6L294.1 397.8L292.5 398.6L290.9 395.5L290.2 392.3L289.1 389.2L287.3 387.7L287.8 384.5L288.6 381.4"/>
<path d="M298.8 393.9L300.3 395.5L298.8 397.0L298.0 395.0L298.8 393.9"/>
<path d="M137.3 420.0L136.2 426.2L136.6 433.3L138.9 438.0L142.8 439.5L143.6 443.4L140.5 446.9L139.4 451.2L142.0 457.5L145.2 464.5L148.3 470.0L150.9 473.9L149.8 476.2L152.2 479.4L150.9 484.1L150.3 488.0L152.5 491.6L156.9 492.7L161.6 494.2L165.5 495.8L168.6 498.9L170.2 502.0L174.1 504.4L179.5 505.9L181.1 509.1L180.6 512.2L184.2 513.0L188.1 516.9L192.0 521.6L194.4 526.2L195.2 530.9L194.4 535.6L195.9 539.5L195.6 543.4L197.5 548.1L199.1 552.8L200.6 555.9L199.1 560.6L202.2 566.9L203.4 571.6L205.3 574.7L206.1 580.0"/>
<path d="M150.3 499.2L153.8 500.5L156.9 501.2L154.5 502.5L152.2 500.9L150.3 499.2"/>
<path d="M157.7 501.2L160.8 501.6L164.7 502.8L161.6 503.6L158.4 502.8L157.7 501.2"/>
<path d="M160.3 516.9L162.3 517.7L160.8 518.4L160.3 516.9"/>
<path d="M176.4 516.9L179.5 518.4L180.3 520.8L178.0 520.0L176.4 516.9"/>
<path d="M174.1 524.7L176.4 527.8L177.5 529.7L175.6 529.1L174.1 524.7"/>
<path d="M205.9 579.5L205.1 580.6L205.3 581.8L205.7 583.1L206.5 584.1L207.8 584.8L208.3 586.1L207.6 587.3L208.1 588.7L207.1 589.9L207.6 591.2L207.3 592.6L207.9 593.8L207.8 595.2L208.6 596.1L209.2 597.4L210.5 597.9L210.9 599.3L212.1 600.1L212.8 601.2L213.9 601.9L214.7 603.0L215.9 603.6L217.0 604.4L217.6 605.6L218.7 606.3L219.6 607.3L219.8 608.8L220.7 609.8L221.2 610.9L221.9 612.1L222.6 613.2L223.4 614.2L224.5 615.1L224.8 616.5L225.4 617.6L226.5 618.4L226.8 619.8L228.0 620.6L228.2 622.0L229.4 622.8L229.9 624.0L230.4 625.3L229.5 626.3L229.1 627.6L229.3 629.1L228.2 630.0L227.8 631.3L226.7 632.1L226.0 633.2L225.0 633.8L224.2 635.1L222.7 635.1L221.7 635.9L220.4 635.8L219.1 635.2L217.8 635.2L216.4 635.4L215.3 634.5L213.8 635.1L212.7 634.2L211.3 634.5L212.2 635.0L212.9 636.1L213.4 637.4L214.6 638.1L215.3 639.3L215.7 640.6L216.9 641.3L217.1 642.6L218.1 643.7L217.8 645.2L218.2 646.4L219.4 647.4L220.0 648.5L221.4 648.7L222.1 649.9L223.6 650.1L224.3 651.4L225.6 651.9L226.5 652.9L226.9 654.3L227.9 655.2L229.1 655.7L229.8 656.9L231.1 657.5L231.9 658.4L233.1 658.9L234.5 658.6L235.9 659.4L236.7 658.3L238.0 657.9L239.1 657.3L239.7 657.2L239.4 658.6L240.1 659.8L240.3 661.1L241.1 662.1L241.8 663.3L242.5 664.4L243.0 665.7L244.4 666.1L245.0 667.3L245.8 668.4L246.7 669.4L248.1 669.8L248.6 671.1L249.6 672.0L250.4 673.0L251.5 673.8L251.6 675.2L252.7 676.1L253.0 677.4L253.3 678.6L254.1 679.8L253.9 681.2L254.6 682.4L254.9 683.7L254.2 684.9L254.6 686.3L254.7 687.6L254.3 688.9L253.5 690.0L252.8 691.2L252.5 692.5L252.7 693.9L252.0 695.1L251.0 696.1L250.5 697.3L250.4 698.7L249.7 699.8L248.7 700.8L249.7 701.7L249.8 703.1L250.7 704.1L251.4 705.3L252.3 706.2L253.8 706.6L254.4 707.3L255.7 707.1L257.1 707.4L258.1 707.1L258.9 708.2L260.3 708.6L260.9 710.0L262.1 710.6L263.1 711.4L263.7 712.6L264.5 713.7L265.9 714.2L266.9 715.0L267.5 716.2"/>
<path d="M208.1 627.2L209.4 624.1L210.9 624.8L210.5 628.8L208.6 629.2L208.1 627.2"/>
<path d="M224.5 636.6L226.9 635.0L229.2 638.9L226.1 640.5L224.5 636.6"/>
<path d="M161.6 596.7L162.5 596.2L162.8 599.1L161.9 600.9L161.2 599.1L161.6 596.7"/>
<path d="M248.8 699.8L250.6 695.9L252.7 700.6L255.0 705.3L258.1 707.7"/>
<path d="M228.8 558.3L228.2 559.5L228.3 560.9L227.7 562.1L227.8 563.4L227.0 564.6L227.1 565.9L226.3 567.1L226.7 568.5L226.1 569.7L226.6 571.1L225.8 572.3L226.5 573.6L227.1 574.8L226.7 576.3L227.7 577.4L227.2 578.8L227.1 580.0L227.2 581.3L227.4 582.6L227.0 583.9L227.3 585.2L227.1 586.5L227.2 587.8L226.4 589.1L226.8 590.4L226.8 591.7L226.3 593.1L226.8 594.4L227.9 595.4L227.7 596.8L228.6 597.9L229.8 598.6L230.3 599.9L231.2 600.8L232.7 601.2L233.1 602.6L234.1 603.5L235.3 604.2L236.1 605.2L236.4 606.6L237.3 607.6L238.3 608.5L238.7 609.8L239.8 610.6L239.8 611.9L240.5 613.2L240.1 614.5L240.0 615.8L239.8 617.1L240.5 618.3L241.7 618.9L242.9 619.5L243.5 620.8L244.8 621.5L244.7 623.0L245.8 623.9L245.9 625.3L246.9 626.3L247.6 627.2L248.6 628.1L250.0 628.2L250.1 629.5L250.3 630.9L250.0 632.1L249.8 633.4L249.9 634.8L249.4 636.0L250.0 637.3L249.8 638.6L249.7 640.0L250.2 641.2L251.4 642.1L251.4 643.6L252.8 644.2L252.9 645.8L254.0 646.6L254.3 647.9L255.5 648.7L255.7 650.1L257.0 650.9L257.2 652.3L257.6 653.5L258.6 654.5L258.8 655.8L259.8 656.8L259.8 658.2L260.9 659.2L260.8 660.6L261.7 661.4L262.4 662.7L263.9 662.7L264.6 664.1L265.3 664.9L266.4 665.8L266.2 667.3L267.2 668.3L267.8 669.5L267.6 670.9L268.3 672.1L268.3 673.4L268.9 674.6L268.7 676.0L269.0 677.2L269.6 678.5L269.6 679.8L270.0 681.1L269.5 682.4L270.2 683.6L269.8 685.1L270.7 686.2L270.9 687.5L271.6 688.6L272.5 689.6L272.7 691.0L273.7 692.0L273.6 693.4L274.7 694.4L274.5 695.8L275.3 697.0L275.2 698.4L276.0 699.5L275.8 700.9L276.2 702.1L276.9 703.3L276.4 704.7L276.5 705.9L276.7 707.3L275.8 708.4L275.3 709.7L275.9 711.0L275.6 712.4L275.5 713.7L275.6 715.0L276.1 716.2"/>
<path d="M228.8 558.3L229.6 559.3L231.0 559.8L231.7 560.8L232.3 562.1L233.7 562.5L234.3 563.8L235.4 564.5L236.0 565.8L236.9 566.7L238.4 567.1L239.0 567.2L240.5 567.3L241.4 566.1L242.5 566.3L243.5 567.2L244.8 567.6L245.3 569.0L246.7 569.6L246.7 570.9L247.5 572.1L248.0 573.1L249.4 573.2L250.4 574.1L251.7 574.3L252.8 575.2L254.1 575.4L253.7 576.7L254.3 578.1L253.7 579.3L254.0 580.6L253.3 581.9L253.7 583.2L253.7 584.5L254.5 585.6L254.7 586.9L255.7 587.9L255.5 589.4L256.4 590.4L256.8 591.7L256.9 593.0L256.4 594.4L257.0 595.7L256.8 597.0L257.3 598.3L256.8 599.6L257.6 600.8L257.7 602.1L258.7 603.2L259.2 604.3L259.0 605.8L260.2 606.8L260.0 608.3L261.2 609.2L260.9 610.7L262.1 611.7L261.9 613.1L262.4 614.3L263.3 615.5L263.4 616.8L263.0 618.1L263.7 619.4L263.3 620.7L264.4 621.6L264.8 623.0L265.7 624.0L266.8 624.7L267.2 626.0L268.3 626.9L268.3 628.4L269.6 629.2L270.3 630.3L270.4 631.7L271.3 632.8L272.3 633.7L272.4 635.1L273.2 636.2L274.0 637.3L275.3 637.9L275.7 639.2L276.9 640.0L277.8 640.9L278.4 642.1L279.7 642.6L280.3 643.9L281.2 644.8L282.6 644.9L283.8 645.9L285.2 645.3L286.5 645.7L286.4 646.5L286.3 647.8L286.6 649.2L285.5 650.3L285.2 651.6L285.9 652.8L286.2 654.2L287.1 655.2L287.3 656.5L288.5 657.3L289.5 658.1L290.0 659.4L291.1 660.3L292.4 660.6L293.3 661.6L294.8 661.6L295.4 662.6L296.1 663.8L295.8 665.2L296.0 666.5L296.9 667.5L297.3 668.9L298.5 669.6L299.4 670.6L300.7 670.8L302.0 670.8L303.4 670.6L303.6 672.2L304.6 673.2L304.8 674.5L305.2 675.8L306.2 676.7L306.5 678.0L306.9 679.3L306.4 679.5L305.2 680.2L303.7 680.4L303.3 681.6L302.6 682.7L302.6 684.2L302.1 685.3L302.1 686.6L301.5 687.9L302.1 689.2L302.7 689.9L303.8 690.6L304.7 691.6L306.2 691.8L306.6 693.3L307.9 693.8L308.8 694.8L310.2 694.7L311.5 695.1L312.2 696.3L313.3 697.0L313.9 698.3L315.2 698.8L316.1 699.8L317.4 700.2L318.0 701.5L318.9 702.5L320.2 703.0L320.8 704.3L321.6 705.2L322.2 706.4L323.3 707.2L323.4 708.6L324.4 709.7L324.1 711.1L324.8 712.3L325.0 713.6L326.3 714.3L326.9 715.5"/>
<path d="M240.9 606.9L243.3 605.8L244.8 610.0L247.2 612.3L247.2 617.0L244.8 615.5L242.5 612.3L240.9 606.9"/>
<path d="M258.1 616.2L261.2 614.7L263.1 617.0L262.8 621.7L260.5 624.4L257.7 622.5L258.1 616.2"/>
<path d="M250.3 624.8L251.9 625.6"/>
<path d="M255.0 624.4L256.2 623.8"/>
<path d="M261.2 661.6L263.6 663.1L264.4 667.8L262.0 666.2L261.2 661.6"/>
<path d="M270.6 680.3L272.2 679.5L271.4 682.7"/>
<path d="M276.1 687.3L276.9 688.9"/>
<path d="M277.7 694.4L278.1 695.2"/>
<path d="M276.9 699.1L278.8 699.8L278.4 703.0L276.9 701.4"/>
<path d="M280.8 710.0L282.3 712.3L281.6 713.9"/>
<path d="M319.1 703.0L321.4 704.5L323.0 708.4L321.4 709.2L319.8 706.1L319.1 703.0"/>
<path d="M473.3 186.6L473.5 187.9L474.5 188.9L474.8 190.2L474.4 191.5L474.7 192.8L474.3 194.1L474.0 195.4L473.8 196.8L474.8 197.8L474.5 199.3L475.0 200.5L476.0 201.6L475.4 203.1L476.4 204.2L476.7 205.5L477.1 206.6L478.2 207.3L478.7 208.7L479.7 208.3L481.1 207.8L481.9 206.8L482.7 205.7L484.2 205.7L485.3 205.1L485.9 206.3L487.2 206.9L488.3 207.1L489.1 206.0L489.7 206.5L491.0 207.4L491.0 208.8L491.0 210.0L491.3 211.3L491.3 212.6L491.2 213.8L491.5 215.1L492.8 215.9L492.8 217.3L492.1 218.5L492.1 219.8L493.0 220.7L494.3 221.2L495.0 222.3L496.2 222.9L496.9 224.1L498.2 224.6L498.8 225.9L499.0 227.3L500.1 228.2L500.4 229.4L501.3 230.6L500.9 232.0L501.0 233.2L500.1 234.1L498.9 234.5L497.7 235.1L496.5 235.7L495.2 235.0L493.8 234.8L493.0 233.7L492.6 232.4L493.1 231.1L492.5 229.8L492.8 228.5L492.0 227.4L491.6 226.1L491.6 224.7L490.5 223.7L490.8 222.2L490.2 221.1L489.3 220.0L489.4 218.6L488.3 217.6L488.7 216.2L488.4 214.9L488.0 213.6L488.5 212.2L487.1 211.6L486.2 210.6L485.6 209.3L484.2 209.0L483.2 208.0L482.4 209.2L481.4 210.0L480.1 208.9L478.7 208.8L478.0 207.7L477.2 206.6L477.3 205.2L476.8 204.3L477.4 203.2L477.3 201.6L478.5 200.8L478.4 199.4L479.2 198.2L478.6 196.8L479.3 195.6L479.5 194.3L479.4 192.9L480.2 191.8L480.1 190.5L480.4 189.2L479.8 187.9L480.0 186.6"/>
<path d="M475.6 201.9L476.4 203.0L478.0 203.1L478.2 204.8L479.6 205.2L480.6 203.9L481.6 204.7L483.0 205.2L483.3 206.6L484.0 206.8L485.7 206.8L486.1 205.3L487.9 204.9L487.5 206.6L489.5 206.9L489.2 208.6L489.0 209.6L490.0 211.2L488.7 212.8L490.6 212.3L491.2 213.6"/>
<path d="M491.2 186.6L491.9 187.7L492.9 188.6L493.5 189.8L494.7 190.5L494.9 192.0L496.3 192.5L496.5 194.1L497.5 194.9L498.6 195.8L499.1 197.0L499.3 198.3L499.3 199.7L500.1 201.0L501.5 201.3L502.1 202.6L502.9 201.8L503.5 200.6L503.4 199.2L504.6 198.9L505.7 198.0L506.4 198.9L507.0 200.0L507.8 201.2L507.2 202.4L507.5 203.8L506.5 204.9L507.0 206.4L508.0 207.3L508.1 208.7L508.7 210.1L510.1 210.3L510.8 210.4L512.0 209.7L512.2 208.3L512.5 209.0L513.1 210.3L512.9 211.6L512.6 212.8L512.9 214.2L512.3 215.4L512.6 216.8L512.2 218.1L512.4 219.4L511.9 220.7L511.9 222.0L512.5 223.2L512.2 224.6L512.8 225.8L512.6 227.2L512.8 228.5L513.8 229.6L514.2 230.9L514.8 230.8L516.2 231.1L516.8 230.2L517.2 229.0L518.2 227.9L519.2 227.4L520.0 226.1L520.7 225.3L520.1 224.1L520.1 222.8L519.8 221.5L519.4 220.2L520.3 219.2L520.6 217.9L521.0 216.7L521.1 215.4L520.3 214.3L520.0 213.0L518.9 212.2L518.9 210.6L517.5 210.0L517.3 208.6L516.2 207.7L515.6 206.5L515.0 205.3L514.7 204.0L514.7 202.6L513.6 201.6L513.6 200.3L512.7 199.2L512.9 197.7L512.0 196.6L511.6 195.4L511.9 193.9L511.5 192.7L510.4 191.7L510.2 190.4L510.1 189.0L509.2 187.9L509.2 186.6"/>
<path d="M513.9 212.8L515.5 211.2L516.6 213.6L515.0 215.9L513.9 212.8"/>
<path d="M535.0 244.8L536.5 245.3L537.5 243.8L539.0 244.5L540.0 242.9L541.5 243.5L542.7 242.8L544.1 243.1L545.8 242.3L545.6 244.0L547.3 244.3L547.0 246.4L549.1 246.3L548.9 248.0L550.1 249.0L549.6 250.6L551.3 251.7L549.6 252.7L550.4 254.3L548.5 254.4L548.1 256.2L546.3 255.5L545.0 255.8L545.0 258.0L544.0 258.9L542.6 259.2L541.5 260.0L540.2 260.2L540.2 258.4L539.4 258.9L537.3 258.7L537.0 260.3L535.8 260.0L534.2 260.3L535.2 258.7L534.2 257.2L535.4 256.0L535.6 255.1L535.7 253.4L537.2 252.4L535.4 251.6L536.4 249.9L535.0 248.8L535.0 247.5L535.4 246.1L535.0 244.8"/>
<path d="M537.3 246.4L537.8 248.0L539.1 248.7L539.8 250.0L539.6 251.5L538.6 252.1L540.5 251.9L541.6 252.3L541.3 250.1L543.7 250.6L544.8 249.7L544.4 248.5L542.9 247.8L542.6 245.5L541.4 246.4L539.9 247.0L539.7 245.3"/>
<path d="M537.3 246.4L538.1 248.0L540.6 247.8L537.8 249.4L538.1 251.9L539.3 253.0L542.2 253.3L541.0 249.7L543.0 249.2L545.1 249.4L544.8 247.5L543.4 245.8L542.2 247.4L541.8 245.7L539.7 245.3"/>
<path d="M541.2 253.4L542.7 253.5L544.1 253.4L545.7 252.6L545.8 250.7L547.6 250.4L547.3 252.2L548.3 253.4L546.8 253.9L545.7 254.7L544.6 255.6L543.6 256.6"/>
<path d="M557.7 258.1L558.4 259.2L559.7 259.8L560.4 261.0L562.0 260.8L562.7 262.3L564.3 261.4L565.4 262.8L566.5 263.5L568.0 263.1L568.6 264.5L570.0 264.8L569.4 265.9L569.9 267.5L568.3 266.7L566.9 267.8L565.9 266.3L564.8 265.7L563.1 266.4L562.3 265.0L561.1 264.4L559.5 264.4L560.0 262.6L558.0 262.2L557.7 260.8L558.3 259.4L557.7 258.1"/>
<path d="M560.8 262.0L561.6 263.1L563.4 263.0L564.1 263.6L565.1 265.3L566.6 264.3L567.8 265.2"/>
<path d="M611.6 268.3L606.9 273.0L599.1 277.7L591.2 283.1L585.0 290.2L580.3 295.6L577.2 299.5L580.3 300.3L586.6 297.5L592.8 294.8L598.3 291.7L597.5 295.6L594.4 298.8L593.6 301.1L596.7 300.3L600.6 301.1L606.9 296.4L610.0 294.8"/>
<path d="M708.4 186.6L710.8 190.2L710.0 194.1L713.9 193.3L719.4 194.8L721.7 190.2L722.5 186.6"/>
<path d="M728.0 186.6L729.5 187.8L730.3 191.7"/>
<path d="M615.5 227.7L616.9 227.7L617.8 226.2L618.9 227.8L620.4 227.9L620.8 229.6L621.4 230.3L623.0 231.0L622.8 232.6L624.2 233.6L623.0 234.8L624.3 236.2L622.6 237.4L623.5 238.8L622.8 240.2L624.1 241.4L623.3 242.8L622.9 243.2L622.1 244.8L620.4 244.2L619.4 244.2L618.1 244.1L616.4 244.4L616.1 242.5L614.4 243.0L613.6 241.2L611.5 241.6L612.7 240.0L611.4 238.9L612.4 237.8L611.3 236.0L612.7 235.1L612.2 233.5L612.9 232.3L614.2 231.5L615.0 230.4L614.7 228.8L615.5 227.7"/>
<path d="M610.0 270.6L611.6 265.2L614.7 262.0L618.6 259.7L621.7 255.0L624.8 251.9L628.8 252.2L633.4 254.2L641.2 253.1L646.7 253.8L649.8 259.7L653.0 265.2L656.1 267.5L661.6 267.2L668.6 266.2L667.8 273.0L670.9 275.3L673.8 278.4L672.5 283.9L675.6 285.5L677.2 287.8L676.4 291.7L679.5 293.3L681.9 292.5L682.7 296.4L685.8 297.2"/>
<path d="M611.6 267.5L612.7 266.7L613.7 265.9L614.0 264.2L615.5 265.2L617.1 264.1L618.7 265.0L617.8 263.2L618.5 262.1L619.8 261.5L620.7 260.2L622.1 260.1L621.6 259.1L622.5 257.4L622.6 256.4L624.2 257.7L625.5 257.5L625.8 255.4L627.4 254.7L627.8 252.8L628.5 254.5L629.7 255.1L631.1 255.3L629.7 255.5L628.8 256.6"/>
<path d="M613.1 274.5L617.0 271.4L621.7 268.3L620.9 270.3L617.0 273.4L613.9 275.3L613.1 274.5"/>
<path d="M655.0 272.2L656.9 271.1L659.2 271.9L656.9 273.3L655.0 272.2"/>
<path d="M610.0 295.6L614.7 292.5L619.4 287.8L624.1 283.1L628.8 280.8L633.4 280.8L630.3 283.9L626.4 287.8L624.4 291.7L624.8 294.8L628.0 290.9L633.4 291.7L637.3 295.6L641.2 298.0L645.9 297.2L649.1 296.4L653.8 294.1L660.0 291.7L665.5 290.2L670.2 289.4L670.2 294.1L675.6 294.8L678.8 293.3"/>
<path d="M678.8 293.3L679.0 294.8L681.1 294.8L680.7 296.8L681.8 297.7L682.5 298.8L684.2 298.9L684.6 300.4L686.2 300.2L687.5 300.3L688.6 301.5L689.9 300.5L691.2 300.2L692.6 300.8L693.9 300.1L695.2 300.5L696.5 299.6L697.9 300.5L699.1 299.4L700.4 299.1L701.6 298.5L703.1 299.4L704.2 298.1L705.7 299.2L706.9 298.2L708.3 298.6L709.5 297.5L710.9 297.9L711.8 296.7L713.1 296.4"/>
<path d="M685.8 296.4L687.1 296.5L688.4 296.6L689.7 296.3L691.0 296.4L692.3 296.4L693.6 295.9L694.9 295.8L696.2 296.0L697.4 295.5L698.8 296.0L700.0 295.2L701.4 295.6L702.7 295.5L703.9 294.8L705.3 295.3L706.5 294.6L707.8 295.4L709.1 294.7L710.4 295.5L711.8 294.8L713.0 295.5L714.3 295.2L715.6 295.7L716.9 295.2L718.2 295.7L719.5 295.4L720.8 295.2L722.1 295.4L723.4 296.1L724.7 296.2L726.0 295.7L727.0 296.3L728.1 297.1L729.2 297.8L729.6 299.2L731.0 299.7L731.3 301.2L732.1 302.2L733.6 302.7L734.3 303.7L734.6 305.2L735.5 306.2L737.0 306.6L737.1 308.2L738.6 308.6L739.3 309.7L740.2 310.6L741.0 311.7L742.4 312.1L743.5 312.8L744.2 314.0L744.7 314.2L743.9 315.5L742.7 315.9L741.8 316.7L742.1 317.9L743.0 319.1L742.9 320.5L741.7 320.5L740.4 321.0L739.1 320.3L737.7 320.7L736.7 319.7L735.6 319.0L734.3 318.8L733.0 318.0L731.9 318.9L730.6 319.0L729.5 318.8L728.7 317.8L727.4 317.1L727.0 315.8L726.3 314.7L725.3 313.7L723.9 313.3L723.6 311.8L722.1 311.4L721.3 310.3L720.1 310.9L718.9 311.3L718.1 311.3L718.8 312.4L720.1 313.0L720.6 314.4L721.4 315.4L722.7 316.0L723.3 317.1L724.1 318.1L725.1 319.0L725.2 320.4L726.3 321.7L725.1 322.6L724.7 323.8L723.9 324.9L723.8 326.3L723.5 327.5L722.3 328.5L722.4 329.9L721.3 330.9L721.2 332.2L721.7 333.5L721.3 334.9L722.0 336.1L721.5 337.5L722.3 338.7L722.2 340.0"/>
<path d="M683.4 298.8L684.4 299.7L686.0 299.6L686.9 300.7L688.1 301.4L689.5 301.2L690.7 302.0L691.9 302.4L693.3 302.2L694.6 303.0L695.8 302.1L697.2 302.5L698.5 301.9L699.9 302.4L701.1 301.9L702.3 301.0L703.7 301.3L704.9 300.7L706.3 300.7L707.2 299.6L708.6 299.4L709.8 298.7L710.9 298.0L711.9 297.3L713.1 296.6L714.5 297.0L715.7 296.1L716.4 297.3L716.8 298.5L717.8 299.5L717.3 300.8L717.7 302.3L716.8 303.4L716.5 304.7L716.5 306.0L715.7 306.0L714.2 306.1L713.0 305.5L712.0 304.6L710.7 304.2L709.3 304.5L708.1 303.5L706.7 304.0L705.5 303.3L704.1 303.6L702.8 303.6L701.5 302.8L700.2 302.9L698.8 302.9L697.6 302.4L696.2 302.5L695.0 303.2L693.6 303.0L692.3 302.9L691.1 303.2L689.7 303.2L688.7 302.0L687.4 301.6L686.2 301.2L685.0 300.9L683.9 300.0L683.4 298.8"/>
<path d="M712.3 296.4L713.9 300.3L716.2 298.8L715.5 303.4"/>
<path d="M736.6 304.2L738.9 305.0"/>
<path d="M742.0 312.8L744.4 314.4"/>
<path d="M675.6 303.4L669.4 303.4L663.1 304.2L656.9 306.6L652.2 308.9L650.9 312.8L648.8 308.9L646.2 312.0L645.2 309.7L642.8 315.9L640.5 322.2L637.3 330.0L635.0 335.5L637.3 336.2L641.2 330.0L645.2 321.4L648.3 318.3L647.5 322.2L645.2 328.4L642.8 336.2L642.0 340.0"/>
<path d="M675.6 303.4L679.5 302.7L683.4 306.6L688.1 309.7L692.8 312.0L695.2 315.9L697.5 318.3L696.7 320.6L698.3 326.9L698.3 333.1L695.9 337.8L695.2 340.0"/>
<path d="M675.6 303.4L672.5 309.7L671.7 313.6L674.1 315.2L670.2 317.5L667.8 319.8L667.0 326.9L669.1 325.3L668.6 320.6L666.2 321.4L663.1 323.8L660.8 326.1L659.2 330.0L658.4 336.2L659.2 340.0"/>
<path d="M675.6 303.4L677.2 305.8L679.5 307.3L677.2 308.1"/>
<path d="M699.8 340.0L702.2 336.2L706.1 335.5L710.0 340.0"/>
<path d="M664.7 309.7L666.2 312.0L665.0 312.8L664.7 309.7"/>
<path d="M659.7 321.4L661.2 323.0"/>
<path d="M751.4 340.0L753.8 334.7L760.0 330.0L766.2 326.9L770.0 325.6"/>
<path d="M761.6 340.0L766.2 337.0L770.0 335.9"/>
<path d="M877.8 186.6L873.1 189.4L869.2 191.7L867.7 194.8L863.8 198.8L861.4 204.2L859.8 209.7L858.8 215.2L856.7 219.8L852.8 218.8L855.9 220.6L855.2 226.9L852.8 233.1L850.5 237.8L848.1 242.5L845.8 247.2L847.3 248.8L851.2 245.6L854.4 240.2L856.7 233.1L859.1 226.9L861.4 220.6L863.8 215.2L866.9 209.7L871.6 204.2L877.8 197.2L884.1 191.7L890.3 186.6"/>
<path d="M867.7 194.8L866.1 195.6L867.2 196.9"/>
<path d="M908.3 262.8L908.3 264.4L910.5 264.9L910.0 266.9L908.3 267.5L909.0 269.5L908.3 270.9L905.5 270.6L906.7 273.2L904.4 273.1L903.8 274.6L902.2 274.7L902.5 276.6L901.3 277.6L900.7 278.9L898.8 279.4L898.7 281.1L896.9 280.3L895.6 280.8L893.6 281.7L894.7 283.6L894.3 284.9L892.7 285.8L893.5 287.9L891.0 287.8L890.2 289.4L891.5 287.8L892.2 286.3L892.0 284.9L888.9 283.9L889.1 283.3L889.6 285.4L887.2 285.3L888.9 287.2L887.7 288.9L889.3 290.0L887.1 290.2L886.9 292.3L885.1 292.2L884.9 294.3L882.3 293.1L882.9 296.3L881.6 297.0L879.6 296.6L879.0 298.0L878.6 299.6L876.3 299.4L876.4 301.2L873.9 301.1L875.1 303.3L874.1 304.8L873.7 306.2L875.1 307.6L873.8 308.6L873.0 309.8L872.0 311.1L872.2 312.5L872.2 314.0L873.4 315.4L872.0 316.9L872.7 318.3"/>
<path d="M908.3 262.8L908.6 264.4L908.4 266.4L907.5 266.1L909.6 269.3L906.2 268.9L906.0 270.8L906.1 272.9L903.8 272.8L904.1 275.8L902.9 276.1L899.6 276.3L900.9 278.7L898.5 279.3L897.9 279.4L896.9 281.7L894.6 279.8L895.1 283.1L893.5 284.3L894.5 286.3L891.5 286.5L892.5 289.3L892.5 288.5L889.7 287.2L892.0 285.3L889.7 284.0L888.7 282.9L889.3 285.5L889.3 286.2L887.6 288.2L887.9 289.7L888.9 292.0L887.4 292.8L885.1 292.4L885.2 295.2L883.0 295.0L881.0 295.0L879.7 296.0L880.2 298.9L876.5 297.5L877.2 300.3L874.5 300.4L876.2 303.7L874.1 304.2L874.3 305.8L875.3 307.5L875.9 309.4L874.1 310.5L874.4 312.3L873.9 313.8L871.1 314.7L872.0 316.7L872.7 318.3"/>
<path d="M902.0 275.3L902.3 276.8L903.9 277.3L902.2 277.8L902.0 279.8L900.9 280.3L899.2 280.9L899.5 282.6L897.6 283.1L897.3 284.6L895.7 283.8L894.3 285.3L895.9 286.3L895.1 287.9L894.9 288.9L893.7 289.7L893.0 288.9L892.4 287.4L893.4 286.2"/>
<path d="M890.3 283.1L891.6 282.6L892.5 281.7L892.3 283.4L892.8 283.6L891.7 284.4L890.9 285.5L890.9 287.4L889.5 287.8"/>
<path d="M882.5 294.8L880.9 296.4L883.3 297.2"/>
<path d="M879.4 297.2L877.8 300.3L880.2 298.8"/>
<path d="M770.0 325.3L773.1 323.0L777.0 322.2L782.5 323.0L784.8 319.8L788.0 316.7L791.9 314.4L795.8 311.2L798.9 306.6L797.3 310.5L793.4 314.4L793.4 317.5L796.6 319.8L795.8 323.0L797.3 326.1L794.2 328.4L791.9 332.3L787.2 333.9L780.9 336.2L774.7 335.5L770.0 336.2"/>
<path d="M784.8 319.8L788.8 318.3L792.7 315.2L796.6 311.2"/>
<path d="M828.6 289.4L830.2 287.8L830.9 292.5L831.7 298.8L832.5 303.4L831.7 306.6L830.2 302.7L829.1 297.2L827.8 292.5L828.6 289.4"/>
<path d="M829.4 290.2L830.2 295.6L830.9 301.9"/>
<path d="M919.5 186.6L919.2 187.9L919.8 189.2L918.9 190.2L918.7 191.6L917.8 192.6L916.6 193.3L916.3 194.7L915.4 195.7L915.2 197.0L914.2 198.0L913.8 199.3L912.7 200.1L912.4 201.5L911.1 202.2L910.2 203.2L908.7 202.7L907.5 203.0L906.4 204.1L905.0 203.5L903.7 204.0L902.4 203.4L901.0 203.9L899.7 203.6L898.9 204.8L897.6 205.1L896.7 206.2L895.3 206.6L894.8 207.9L893.5 208.4L893.1 209.2L894.5 209.2L895.6 208.3L897.0 208.3L898.1 207.6L899.4 207.2L900.8 207.9L902.0 207.0L903.2 207.6L904.7 207.8L905.5 208.9L906.8 209.2L907.8 210.2L908.6 209.9L909.4 208.9L910.5 208.0L911.4 207.3L912.4 206.3L913.6 205.7L914.7 205.1L916.2 205.1L917.0 203.8L918.5 203.7L919.0 202.5L918.7 201.1L919.1 199.9L920.0 199.4L920.7 200.3L920.4 201.6L920.9 202.9L920.4 204.2L920.6 205.5L920.2 206.8L919.4 207.9L919.7 209.3L918.8 210.4L919.0 211.7L918.6 213.1L918.6 214.4L918.5 215.7L918.7 217.0L917.4 217.7L916.5 218.6L917.1 218.6L918.5 218.8L919.7 218.2L920.8 217.2L922.0 218.2L922.5 219.5L923.6 220.2L923.9 221.7L924.6 222.8L925.9 223.5L926.8 224.4L927.1 225.8L928.4 226.5L928.9 227.8L930.0 228.5L930.7 229.7L932.2 229.7L933.3 230.5L934.5 230.8L935.6 229.9L937.1 230.2L938.2 229.9L939.6 229.4L940.9 230.2L940.7 230.7L941.0 232.1L941.5 232.8L942.8 232.9L944.1 232.8L945.4 233.2L946.7 232.9L948.0 233.2L949.3 232.7L950.7 233.2L951.9 232.6L953.3 232.8L954.4 232.0L955.8 232.4L957.1 232.3L958.4 232.0L959.4 231.1L960.7 230.6L961.8 229.9L963.2 229.7L963.6 228.2L964.4 227.2L965.6 226.4L966.0 225.1L966.9 226.4L967.9 227.4L969.0 227.5L970.2 227.0L971.6 227.4L972.6 226.3L974.0 225.8L975.1 226.8L976.5 226.7L977.8 226.6L978.8 225.8L980.2 225.6L980.9 224.4L982.2 223.8L983.1 223.2L984.1 222.1L985.6 222.3L986.7 221.4"/>
<path d="M919.0 199.5L919.9 201.9L919.5 204.7L918.7 203.4"/>
<path d="M932.0 215.2L933.2 214.7L934.1 215.1L933.9 216.6L935.0 217.6L935.2 218.9L935.7 220.1L936.9 220.8L937.5 222.0L938.7 222.3L939.9 221.6L941.2 221.7L942.4 220.9L943.8 221.1L945.0 220.4L946.3 220.5L947.5 220.0L948.9 220.2L950.0 219.2L951.2 218.8L952.6 218.8L953.6 217.8L955.0 217.7L956.2 217.1L957.4 216.5L958.3 215.5L959.7 215.3L960.8 214.6L961.2 214.7L961.4 216.2L960.8 217.3L959.9 218.4L959.6 219.7L958.4 220.5L958.3 222.0L957.8 223.0L958.5 224.2L958.2 225.1L957.2 226.2L955.8 226.3L954.8 226.5L953.4 226.8L952.1 226.3L951.3 225.1L949.9 224.8L948.7 224.8L947.8 225.8L946.7 226.5L945.3 226.3L944.0 226.2L942.7 226.3L941.6 225.6L940.3 225.2L939.0 225.7L937.7 225.2L936.6 224.7L936.1 223.4L934.8 223.1L933.5 223.2L932.2 222.8L930.7 222.7L931.0 221.3L930.2 220.2L930.3 218.7L930.7 217.5L931.7 216.5L932.0 215.2"/>
<path d="M973.4 197.5L974.7 197.6L975.9 196.8L977.2 197.2L978.3 197.8L979.2 198.9L980.0 199.9L979.4 201.4L980.1 202.6L980.0 203.9L980.7 205.2L980.9 206.4L980.5 207.8L980.4 209.1L980.4 210.4L980.8 210.7L981.8 209.8L982.9 209.1L984.0 208.4L985.4 208.6L986.7 208.1"/>
<path d="M973.4 197.5L972.9 198.8L973.2 200.2L972.7 201.4L972.6 202.8L972.4 204.1L972.4 205.4L971.5 206.7L972.2 208.0L971.4 209.3L971.9 210.7L971.0 211.9L970.8 213.2L971.4 214.7L970.5 215.9L970.7 217.3L971.1 218.5L971.0 219.9L971.2 221.2L971.9 222.5L973.0 223.2L973.7 224.4L975.1 224.9L976.0 225.8L977.3 226.1"/>
<path d="M980.4 210.5L979.3 211.5L980.0 213.2L978.4 214.0L978.9 215.7L980.7 215.8L980.4 217.9L980.8 218.6L980.2 219.8L978.4 220.2L979.9 221.4L981.5 220.7L982.8 220.7L984.1 221.7L985.2 220.2L986.7 220.9"/>
<path d="M981.2 209.7L981.5 211.1L982.0 212.4L981.8 213.6L980.0 213.9L981.7 214.5L982.4 216.6L980.6 216.4L979.6 217.5"/>
<path d="M908.5 262.0L910.0 262.2L910.6 260.3L911.9 260.0L913.6 260.6L914.7 259.6L915.3 258.3L916.8 258.2L917.4 256.7L919.0 256.6L920.4 256.2L920.1 254.1L922.2 254.3L922.0 252.2L923.1 251.5L924.1 250.7L925.7 250.4L926.8 249.6L927.5 248.5L928.5 247.6L928.4 245.8L929.3 244.9L930.8 244.4L931.0 242.9L932.6 242.4L932.7 240.9L934.1 240.3L933.9 238.6L933.9 237.4L933.2 236.5L934.2 237.4L935.6 238.7L936.2 236.9L937.0 237.1L936.1 238.1L937.2 240.0L935.7 240.8L935.9 242.4L934.3 243.0L934.4 244.6L933.8 245.5L933.4 246.8L932.5 247.9L933.7 246.9L935.3 247.3L936.3 246.3L937.7 246.2L938.5 245.0L940.0 245.0L941.1 244.5L942.3 244.0L943.2 242.5L944.7 243.0L945.7 241.7L947.1 241.7L948.5 242.3L949.6 240.9L951.1 241.6L950.5 241.2L950.3 243.1L948.5 242.9L948.2 244.7L946.4 244.6L946.2 246.3L944.4 246.3L944.4 247.9L945.9 248.8L944.2 249.5L943.8 247.9L942.8 247.0L941.5 247.9L939.8 247.4L938.9 248.6L938.6 250.1L937.0 250.5L936.2 251.5L936.3 253.3L934.4 253.4L934.3 255.0L932.6 255.3L932.7 257.0L931.1 257.5L930.3 258.5L930.3 260.1L929.5 261.2L928.4 262.0L928.1 263.3L927.5 264.5L926.5 265.4L926.8 267.0L924.8 267.5L924.4 268.8L924.1 270.1L923.3 271.1L923.9 272.8L923.2 273.9L921.5 274.7L923.2 275.2L924.0 274.1L924.8 274.6L924.4 276.1L925.7 277.0L925.9 278.4L927.5 278.9L928.1 280.0L928.9 281.1L928.9 282.7L929.6 282.1L930.8 281.5L932.0 282.0L933.4 282.4L933.9 283.8L935.4 284.1L936.3 284.6L937.5 284.1L937.7 282.5L939.5 282.2L939.2 280.3L940.1 279.2L941.9 279.1L942.3 277.7L943.6 277.2L944.7 276.1L944.3 274.6L944.4 273.3L945.8 272.4L945.2 270.8L945.3 269.4L945.9 268.3L947.3 267.3L946.3 265.8L946.6 264.5L946.6 263.2L948.3 262.3L948.9 261.1L948.8 259.7L949.2 258.4L951.0 257.8L951.2 255.8L952.4 256.6L953.7 256.6L954.2 256.9L956.1 256.3L955.2 254.5L957.0 254.2L957.4 252.4L959.3 253.0L959.6 251.1L961.2 251.1L961.6 249.6L963.5 249.8L963.8 248.1L964.5 246.9L965.7 246.4L967.5 246.3L968.3 245.2L969.2 244.3L970.1 243.4L970.1 241.6L972.0 241.4L971.6 239.4L973.6 239.4L973.4 237.6L975.0 237.2L975.7 236.0L976.1 234.7L976.8 233.4L978.7 233.7L979.0 231.9L980.7 232.1L981.7 231.2L982.1 229.5L981.7 229.5L980.4 230.1L978.9 229.2L978.1 231.1L976.4 229.9L976.1 229.4L977.3 228.4"/>
<path d="M926.5 265.2L927.8 263.6L927.3 266.7"/>
<path d="M911.7 268.3L913.7 267.5L914.3 269.8L912.4 270.6L911.7 268.3"/>
<path d="M515.9 546.6L517.5 544.2L519.8 545.0L521.4 542.7L523.0 542.7L521.4 545.0L522.5 546.2"/>
<path d="M643.1 340.0L641.6 346.2L640.8 352.5L639.2 358.8L640.0 365.0L642.3 371.2L642.3 378.3L645.5 383.8L648.6 389.2L650.9 390.3L655.6 388.4L659.5 386.1L661.9 380.6L664.2 372.8L664.7 366.6L662.7 360.3L659.5 354.1L657.2 347.8L658.0 340.0"/>
<path d="M692.3 340.0L693.1 345.5L696.2 346.6L698.6 344.7L700.0 342.3"/>
<path d="M710.2 340.0L712.5 346.2L714.8 353.3L715.6 361.9L712.5 361.1L710.6 365.0L710.9 368.1L715.6 367.8L717.2 365.0L715.6 361.9"/>
<path d="M714.8 353.3L719.5 350.9L723.4 346.2L722.7 340.0"/>
<path d="M715.6 367.8L716.4 373.6L718.0 371.2L721.9 368.9L725.0 365.8L728.9 361.1L732.8 358.0L739.1 357.2L743.8 357.5L748.4 356.9L745.3 355.6L748.4 353.3L753.1 350.9L757.8 348.6L762.5 347.0L764.1 348.6L761.7 353.3L757.0 358.8L751.6 364.2L744.5 368.9L739.1 372.8L733.6 376.7L729.7 380.3L725.0 382.2L719.5 384.5L714.8 383.8L711.7 383.0L704.7 380.9L705.5 379.1L708.6 373.6L710.9 368.1"/>
<path d="M708.6 373.6L710.9 374.1L716.4 373.6"/>
<path d="M712.5 383.0L714.1 381.9L715.3 383.4L713.3 384.5L712.5 383.0"/>
<path d="M750.0 340.0L751.6 342.8L757.0 342.3L760.2 340.0"/>
<path d="M761.2 340.0L764.1 347.0"/>
<path d="M838.3 375.9L839.5 376.7L840.8 376.9L842.0 377.3L841.8 378.8L842.7 379.8L843.3 381.1L843.4 382.4L842.8 383.8L843.7 385.0L843.3 386.4L843.3 387.7L842.5 388.8L842.6 390.2L841.9 391.4L841.3 392.6L841.0 393.8L841.2 395.3L839.9 396.2L839.5 397.5L839.4 398.9L839.1 400.2L838.0 401.2L838.3 402.7L837.2 403.7L837.0 405.0L836.3 406.2L836.0 405.4L834.8 404.5L834.8 403.1L833.7 402.8L832.5 401.9L831.1 402.1L829.8 402.1L828.6 401.4L827.6 400.4L826.1 400.1L826.0 398.6L824.7 397.8L824.6 396.4L824.4 395.2L824.2 393.9"/>
<path d="M838.3 375.9L837.5 373.6L839.4 372.0"/>
<path d="M843.4 385.3L841.9 391.6L839.8 397.0"/>
<path d="M829.7 453.3L830.8 452.5L831.6 451.5L832.5 451.5L832.2 452.9L832.8 454.1L832.3 455.1L831.2 455.7L830.5 456.9L831.9 457.4L832.3 458.8L833.8 459.1L834.6 460.1L835.5 461.1L836.0 462.5L837.3 463.0L838.0 464.2L839.3 464.7L840.4 465.4L841.1 466.5L842.2 467.3L842.6 468.6L843.8 469.4L844.0 470.8L844.3 472.0L844.0 473.4L844.9 474.6L844.5 476.0L844.9 477.3L843.6 477.8L843.1 479.2L841.9 479.9L841.3 481.2L840.0 481.6L839.4 482.9L838.6 484.0L837.3 484.5L836.6 485.7L835.4 486.3L834.8 487.5L833.5 488.1L832.4 488.8L831.7 490.0L830.5 490.5L829.8 491.8L828.8 492.7L827.5 493.1L826.4 493.8L825.3 494.5L824.4 495.5L823.4 496.4L822.0 496.6L820.9 497.3L820.1 498.5L818.8 498.9L818.0 500.0"/>
<path d="M823.4 461.9L824.3 463.0L826.0 462.6L826.1 463.6L826.5 465.3L824.8 465.9L825.6 467.6L827.2 466.4L828.2 468.0L829.4 466.7L831.0 466.9L831.6 465.3L832.5 465.6L834.0 465.7L834.7 466.9L836.3 467.6L834.7 468.3L835.4 470.1L834.7 471.1L836.0 471.2L837.4 471.0L837.2 472.4L836.0 473.3L835.9 474.9L834.3 474.5L833.5 476.0L831.7 475.1L830.7 475.9L830.0 474.2L828.2 475.1L827.6 475.3L826.5 476.0L825.1 476.3L824.5 477.9L822.8 477.3L821.7 478.6L823.3 478.7L823.5 480.6L825.0 481.0L826.4 480.4L827.5 481.6L828.8 481.8L830.2 482.0L829.8 484.0L831.6 484.3L832.3 485.3L833.7 485.4L834.0 486.3L833.8 487.7L832.6 488.5L832.6 490.1L831.4 488.9L829.7 489.5L828.9 487.9L827.8 489.4L825.9 488.6L825.4 490.5L824.1 490.7L822.5 490.9L822.7 492.8L821.0 493.0L821.0 494.7L819.2 494.5L818.5 496.0L817.2 496.2"/>
<path d="M830.5 456.4L830.7 457.7L831.0 459.1L832.2 460.0L832.1 461.6L833.5 462.3L833.0 464.1L835.1 464.5L835.8 465.5L836.1 466.9L837.1 467.9L836.5 469.9L838.5 470.3L838.0 471.9L838.3 473.2L839.1 474.4"/>
<path d="M825.0 466.6L823.4 469.7L827.3 471.2"/>
<path d="M825.0 480.6L823.4 483.8L826.6 486.1"/>
<path d="M873.0 315.6L872.0 316.2L872.7 317.4L872.5 318.8L873.2 320.1L874.1 320.6L875.1 321.5L876.2 322.2L876.1 323.6L875.0 324.7L874.9 326.0L873.8 326.9L873.3 328.2L873.4 329.2L874.0 330.4L875.5 330.8L876.5 331.8L877.9 332.1L878.5 333.3L879.6 334.1L880.1 335.5L881.4 336.0L882.2 337.3L883.6 337.3L884.7 338.4L885.9 337.8L887.4 337.9L888.4 336.8L889.9 337.1L890.4 335.7L891.1 334.6L890.2 333.5L888.9 332.9L888.0 332.2L886.8 331.4L885.5 331.2"/>
<path d="M890.2 337.5L888.9 338.0L888.0 339.0L887.0 339.8L885.8 340.5L884.3 340.2L883.4 341.4L881.9 341.5L881.4 342.8L880.1 343.4L879.0 343.8L877.8 344.2L877.0 345.4L875.5 345.6L874.5 346.5L873.1 346.3L872.0 346.6L872.9 345.4L872.6 344.0L872.7 342.8L871.6 342.0L871.1 342.1L871.4 343.5L870.6 344.6L871.0 345.9L871.5 347.1L871.7 348.4L871.0 349.2L870.0 350.2L868.5 350.2L867.6 351.4L866.2 351.2L865.1 352.0L864.0 352.8L862.6 352.9L861.5 353.6L860.3 354.1L859.4 355.2L858.0 355.2L856.9 356.0L855.5 356.1L854.5 357.0L853.1 357.0L852.3 358.2L850.9 358.5L849.7 359.1L849.0 360.3L847.7 360.8L846.6 361.5L846.1 362.9L844.9 363.4L843.8 364.3L843.5 365.6L842.1 366.2L841.8 367.5L840.9 368.6L840.5 369.8L840.2 371.1"/>
<path d="M883.9 339.1L880.8 342.2L883.1 343.0"/>
<path d="M880.0 345.3L883.1 344.5L884.7 346.1L881.6 346.9L880.0 345.3"/>
<path d="M889.4 344.5L892.5 343.8L892.5 345.6L890.2 345.8L889.4 344.5"/>
<path d="M840.2 371.1L843.3 368.0L848.8 364.1L855.0 360.9L861.2 358.6L865.9 357.0L868.3 356.2L865.2 359.1L859.7 362.5L855.0 365.6L850.3 368.8L845.6 371.6L841.7 373.1L838.6 373.4L837.8 375.8L840.2 376.6L841.7 375.8"/>
<path d="M840.9 372.7L847.2 369.5L853.4 365.6L859.7 361.7L863.6 358.6"/>
<path d="M859.7 359.4L862.0 357.8L863.6 360.2L861.2 360.9"/>
<path d="M871.4 353.1L871.9 353.8"/>
<path d="M560.0 627.2L554.7 629.5L550.0 633.4L545.3 637.3L539.8 641.2L534.4 644.4L529.7 646.7L525.0 650.6L520.3 654.5L516.4 659.2L513.3 664.7L510.9 670.9L510.2 677.2L511.7 683.4L513.8 689.7L515.3 695.9L514.8 702.2L512.5 707.7L510.2 712.3L508.6 716.2"/>
<path d="M556.2 621.7L553.9 624.8L550.0 624.1L550.8 628.0L553.9 628.8L555.5 625.6L556.2 621.7"/>
<path d="M550.8 628.0L548.4 632.7L546.1 635.8"/>
<path d="M531.2 644.4L530.0 644.9L529.0 645.7L527.9 645.4L526.4 645.4L525.5 644.1L524.4 645.1L524.4 646.6L523.1 647.2L522.5 648.6L521.0 648.8L520.4 650.0L519.4 651.1L519.0 652.3L519.0 653.7L517.5 653.9L516.3 654.3L515.7 655.2L515.0 656.4L514.8 657.7L514.5 659.1L513.1 659.4L512.5 660.7L511.0 660.8L509.9 661.7L509.4 662.5L510.5 663.5L510.4 664.9L510.8 666.2L510.2 667.2L508.9 667.8L508.4 669.1L507.4 670.1L506.0 670.3L505.0 671.2L505.5 671.5L506.7 672.2L508.1 672.1L509.4 672.5"/>
<path d="M523.4 647.5L525.8 648.3L527.3 645.9"/>
<path d="M515.6 654.5L517.2 656.9L514.8 658.4"/>
<path d="M509.4 677.2L507.8 680.3L510.2 686.6L511.7 692.8L513.3 698.3"/>
<path d="M503.9 716.2L504.7 710.0L507.8 707.7L510.9 707.7"/>
<path d="M819.8 400.6L818.5 401.2L818.3 402.9L816.4 402.9L817.0 404.8L817.1 405.8L817.2 407.1L816.3 408.9L817.8 409.5L817.5 410.9L817.4 412.2L818.8 413.1L818.3 414.8L819.3 416.1L820.6 416.5L822.3 416.4L821.3 416.8L820.1 417.7L819.4 418.1L818.8 419.2L818.1 420.4L819.6 420.6L820.1 422.5L821.9 421.8L823.0 422.7L823.2 424.1L823.1 425.5L824.3 426.6L824.0 428.2L825.5 428.0L826.8 429.3L827.7 427.9L829.2 427.8L830.1 428.3L830.7 429.4L828.9 430.2L830.1 431.9L828.8 433.0L829.4 434.5L827.9 435.5L828.1 436.8L829.1 438.2L827.8 439.5L828.7 440.8L829.2 442.0L828.9 443.4L830.1 444.1"/>
<path d="M824.2 393.9L823.2 394.8L823.1 396.1L823.2 397.5L824.4 398.3L825.1 399.3L825.9 400.4L827.0 401.1L827.1 402.6L828.2 403.6L828.1 405.0L829.6 405.6L830.0 407.0L830.9 407.9L831.7 408.9L833.1 409.4L833.8 410.6L835.0 411.1L835.8 412.0L835.7 413.3L835.8 414.6L836.9 415.7L836.7 417.1L837.0 418.4L836.3 419.6L836.2 420.9L836.6 422.3L836.0 423.5L836.1 424.9L835.2 426.0L835.4 427.4L834.0 427.9L833.8 429.2L833.0 430.4L833.1 431.8L832.5 433.0L833.1 434.4L833.0 435.7L832.7 437.0L832.2 438.2L832.7 439.6L831.9 440.8L831.9 442.1L830.9 443.0L830.1 444.1"/>
<path d="M834.4 411.9L835.3 413.1L835.3 413.8L835.8 415.0L836.6 416.2"/>
<path d="M836.0 421.2L834.8 422.1L834.4 423.4L835.7 424.3L836.3 426.3L834.5 426.7L834.1 428.1"/>
<path d="M829.1 439.4L830.0 438.3L830.2 436.9L831.0 435.6L830.7 437.3L831.7 438.7L831.8 440.3L830.9 441.4L830.1 442.5"/>
<path d="M819.8 400.6L818.8 399.6L818.5 400.8L816.0 400.2L815.9 402.2L813.7 402.1L814.7 404.8L811.8 404.2L812.1 406.3L809.9 407.9L811.2 408.7L811.0 409.9L811.9 411.1L814.0 412.0L814.6 413.3L812.5 415.3L815.2 415.9L815.3 417.4L815.6 418.8L814.9 420.6L817.7 420.4L817.1 422.8L819.1 423.1L818.7 425.0L820.5 425.9L819.8 427.5"/>
<path d="M819.8 400.6L818.8 399.1L815.9 399.0L815.5 400.9L815.9 403.5L812.9 403.2L813.3 405.7L810.5 405.5L810.9 408.1L813.7 408.8L812.0 410.9L815.0 411.9L812.7 414.2L814.6 415.4L813.3 417.7L816.7 418.1L815.4 420.5L817.6 420.9L818.3 422.6L817.5 425.1L819.9 425.7L819.8 427.5"/>
<path d="M816.9 403.4L818.6 403.5L818.8 401.8L819.8 400.6"/>
<path d="M817.2 408.1L817.3 409.7L818.8 410.7L817.6 411.9L817.5 414.0L819.4 414.1L819.4 415.7L820.9 416.6L821.8 418.2L822.9 416.9"/>
<path d="M822.9 421.2L824.4 421.8L826.0 420.6L826.0 422.0L825.1 423.6L826.8 424.5L826.4 426.2L827.0 427.5L825.4 427.5"/>
<path d="M819.8 427.5L818.4 427.3L817.1 427.8L815.7 427.7L814.2 428.7L813.3 426.9L811.4 428.0L810.8 426.1L809.2 426.2L808.3 425.2L807.6 423.8L806.0 424.5L805.7 426.2L804.7 424.6L803.1 424.1L804.6 422.9L803.6 421.4L804.0 419.8L805.4 419.1"/>
<path d="M812.6 420.0L812.9 421.5L814.6 421.9L814.8 423.6L816.7 423.6L817.2 425.0"/>
<path d="M819.8 427.5L818.6 428.1L817.5 428.9L818.1 429.4L819.2 430.2L820.4 430.9L821.1 431.4L821.5 432.7L821.3 434.1L821.5 435.4L822.2 436.6L822.1 438.1L823.0 439.1L824.3 439.8L823.9 440.6L822.8 441.6L821.4 441.8L820.8 442.9L821.8 444.2L822.8 445.0L824.3 445.1L825.1 446.3L826.2 447.2L826.5 448.3L827.7 447.4L829.1 447.9L830.4 447.9L830.4 449.4L831.5 450.3L832.0 451.5L832.7 452.6L832.9 454.0"/>
<path d="M811.0 430.3L811.7 431.6L813.3 432.1L814.0 433.5L815.5 433.8L816.2 435.4L818.0 435.3L818.7 436.9L820.5 436.6L821.6 437.5"/>
<path d="M815.4 439.4L816.1 440.6L817.7 440.8L818.9 441.3L819.8 442.3L820.6 443.7L822.2 443.7L822.7 445.2L824.1 445.6"/>
<path d="M813.2 444.7L814.5 445.4L815.9 444.3L817.4 444.9L817.8 446.8L819.3 446.9L820.7 447.2L821.4 448.5L822.9 448.7L823.6 450.2L825.1 450.1L824.4 450.8L823.5 451.9"/>
<path d="M839.1 399.4L840.2 398.3L840.2 396.6L841.5 395.7L842.7 394.7L842.9 393.1"/>
<path d="M545.5 640.0L546.2 638.9L546.7 637.7L547.7 636.8L548.5 635.7L549.0 634.6L550.1 633.9L550.6 632.5L552.0 632.1L552.9 631.1L554.2 630.6L555.0 629.7L555.7 628.4L557.2 628.2L558.3 627.5L559.5 627.1L560.3 625.8L561.8 625.7L562.7 624.6L564.1 624.6L565.1 623.7L566.5 623.7L567.5 622.8L569.0 623.1L570.3 623.0L571.5 622.2L572.8 622.1L574.1 622.5L575.4 622.6L576.7 622.1L578.0 622.7L579.3 622.5L580.5 623.0L581.9 622.7L583.1 623.6L584.5 623.4L585.6 624.1L587.0 623.8L588.2 624.7L589.6 624.4L590.8 624.7L592.0 625.4L593.3 625.0L594.6 624.5L595.9 624.9L597.2 624.4L598.3 625.3L599.7 625.1L600.8 626.0L602.1 625.9L603.5 625.9L604.7 625.5L606.0 625.2L607.1 624.4L608.0 625.5L609.4 625.8L610.4 626.7L611.7 627.0L612.4 628.4L613.6 628.9L614.9 629.2L615.8 630.4L617.1 630.6L618.0 631.6L619.4 631.9L620.2 633.0L621.5 632.8L622.9 632.6L624.0 631.9L625.0 631.0L626.1 630.2L627.5 630.5L628.8 630.4L629.5 629.2L630.8 628.5L630.9 626.9L632.4 626.6L633.2 625.4L634.5 625.1L635.2 623.8L636.7 623.6L637.5 623.5L638.5 624.3L639.6 624.9L640.9 625.0L642.1 626.0L643.5 625.4L644.7 626.3L646.1 626.0L647.2 626.8L648.6 626.5L649.5 627.8L650.8 628.2L649.6 629.3L648.8 630.3L647.8 631.1L647.0 632.2L645.6 632.2L645.2 630.8L643.8 630.3L642.9 629.3L641.5 629.4L640.5 628.4L639.3 627.8L637.9 627.8L636.9 626.9"/>
<path d="M550.2 623.8L554.8 621.9L555.6 624.5L554.1 627.7L551.7 628.4L550.2 626.1L550.2 623.8"/>
<path d="M554.1 627.7L550.9 632.3L547.8 636.2"/>
<path d="M568.1 619.1L569.7 618.3L570.5 621.4L568.1 622.5L568.1 619.1"/>
<path d="M576.7 617.5L578.3 616.7L578.8 620.6L576.7 621.4L576.7 617.5"/>
<path d="M586.1 618.3L588.4 617.5L589.2 619.8L586.9 620.6L586.1 618.3"/>
<path d="M590.0 621.4L593.1 621.1L593.4 623.0L590.8 623.4L590.0 621.4"/>
<path d="M597.0 622.2L600.2 619.8L602.5 620.6L604.8 622.2L607.2 621.4L605.6 623.8L604.1 626.1L600.2 625.3L597.8 623.8L597.0 622.2"/>
<path d="M611.1 626.9L613.4 625.3L615.0 627.7L612.7 629.2"/>
<path d="M621.2 633.1L622.8 630.8L625.9 632.3L627.5 629.2"/>
<path d="M631.4 626.9L633.0 623.8L635.3 624.5L633.8 627.7"/>
<path d="M625.9 608.1L628.3 606.6L632.2 606.9L635.3 608.9L636.9 610.5L633.8 612.8L629.1 613.6L625.9 612.0L625.9 608.1"/>
<path d="M622.8 608.9L624.4 608.1L625.6 610.0L624.1 611.2L622.8 608.9"/>
<path d="M636.9 611.2L638.3 611.4L639.4 610.4L640.5 611.0L641.4 612.1L643.1 611.7L644.1 611.3L645.2 610.6L644.9 612.6L646.5 613.7L645.1 615.2L645.3 616.0L644.9 617.4L643.0 617.3L642.7 619.1L640.9 618.5L640.3 620.2L638.7 620.0L638.2 621.5L638.3 622.3L640.1 621.3L641.4 621.9L641.9 623.8L643.5 623.5L644.1 625.0L645.2 625.8L646.9 625.6L647.9 626.3L649.3 626.4L650.2 627.7"/>
<path d="M643.1 612.8L641.8 613.8L642.5 615.7L641.9 617.3L642.8 615.4L644.0 616.6L642.3 617.4L642.3 619.1"/>
<path d="M640.0 611.2L640.9 610.2L641.1 608.9L641.5 607.7L642.7 606.8L643.5 605.9L644.9 606.1L646.0 605.4L647.2 604.7L648.5 604.5L649.8 604.3L651.2 604.8L652.5 604.5L653.7 603.9L655.0 604.1L656.3 604.1L657.5 603.1L658.9 603.6L660.2 603.6L661.5 603.8L663.1 604.2L662.6 602.8L663.4 601.7L663.6 600.4L663.5 599.0L664.3 597.9L665.2 597.4L665.8 598.6L665.9 599.9L666.1 601.2L666.6 602.4L666.7 603.8L667.8 604.5L668.9 604.8L670.3 604.7L671.5 604.3L672.6 603.5L674.1 603.6L674.8 602.3L676.3 602.3L677.1 601.0L678.5 601.1L679.6 600.2L681.1 600.6L682.2 599.7L683.6 599.9L684.8 599.2L686.1 599.4L687.4 598.9L688.7 599.2L689.9 598.3L691.2 599.1L692.6 598.9L693.8 599.5L695.2 599.0L696.3 599.8L697.7 599.8L698.8 600.7L700.0 601.1"/>
<path d="M674.4 601.9L675.9 599.5L677.5 601.6L679.8 598.8L681.4 600.6"/>
<path d="M642.3 609.7L647.8 607.8L654.1 606.9"/>
<path d="M650.9 611.2L652.2 614.4L651.2 618.3"/>
<path d="M818.0 499.5L817.2 500.6L817.0 502.0L815.7 502.7L815.6 504.2L814.4 505.1L814.6 506.5L814.3 507.8L813.5 508.9L813.7 510.3L812.2 510.4L811.0 511.0L809.7 511.4L808.3 511.2L807.3 512.2L806.0 512.4L804.7 512.8L804.0 514.0L802.8 514.7L802.2 515.9L800.9 516.6L800.5 517.8L799.4 518.6L799.2 520.1L798.0 520.9L798.3 522.4L797.3 523.5L797.4 524.9L797.1 526.0L796.9 527.3L797.3 528.9L795.8 529.2L795.0 530.1L794.4 531.4L793.2 532.1L792.7 533.3L791.9 534.4L790.6 535.0L789.8 536.0L788.9 537.0L788.0 538.0L788.1 539.4L787.0 540.1L786.2 541.3L785.0 541.9L784.2 542.9L782.8 543.3L781.7 544.0L781.1 545.4L779.8 545.9L778.5 546.1L777.4 546.8L776.0 546.6L775.4 547.2L775.3 548.7L776.6 549.5L777.2 550.1L777.7 548.7L777.5 549.7L777.7 551.1L776.8 552.0L776.6 553.4L775.2 554.1L775.1 555.5L774.0 556.5L774.1 557.9L773.1 558.9L773.1 560.3L772.2 561.4L772.7 562.9L771.8 564.0L771.7 565.3L771.6 566.6L770.7 567.8L771.0 569.1L770.0 570.3L770.4 571.7L770.5 573.0L769.7 574.3L769.6 575.6L770.4 576.9L769.7 578.2L770.5 579.4L770.9 580.7L771.1 581.9L770.6 583.4L771.5 584.5L771.2 585.9L771.9 587.1L772.5 588.3L772.2 589.7L773.3 590.7L773.4 592.1L774.3 593.1L774.2 594.6L775.2 595.6L775.7 596.8L776.5 597.8L776.9 599.1L777.5 600.2L777.7 601.6L779.0 602.3L779.3 603.7L780.2 604.7L781.0 605.7L781.8 606.7L782.0 608.2L783.3 608.9L783.5 610.3L784.3 611.3L785.5 612.1L785.9 613.4L787.1 614.2L787.4 615.5L788.4 616.4L788.9 617.7L790.1 618.5L790.1 620.0L790.9 621.0L792.1 621.9L792.1 623.3L792.8 624.4L793.4 625.6L794.4 626.5L794.6 627.9L795.7 628.8L796.5 629.8L796.5 631.3L797.8 632.1L798.5 633.2L798.7 634.6L799.7 635.5L800.0 636.8L801.2 637.7L801.3 639.1L802.3 640.0"/>
<path d="M744.2 528.8L746.1 526.6L747.7 526.1L748.8 527.7L746.9 527.2L745.3 528.1"/>
<path d="M813.3 510.5L812.5 505.8L814.8 505.0"/>
<path d="M796.9 525.3L795.3 526.9L797.2 528.4"/>
<path d="M787.5 540.2L786.7 537.0L788.3 537.8"/>
<path d="M775.0 547.2L774.2 544.8L777.3 545.6L779.7 544.1L781.2 544.8"/>
<path d="M773.1 559.7L771.8 560.2L771.4 561.3L772.7 562.1L772.3 563.3L770.9 563.8L769.6 565.7L771.3 566.2L771.6 567.1L770.9 568.6L769.2 568.5L770.3 570.2L770.3 571.4L769.9 572.8L769.4 574.2L768.7 575.2L770.0 576.1"/>
<path d="M787.5 615.9L789.8 615.2L793.0 619.8L793.8 624.5L792.2 626.1L789.8 622.2L788.3 619.1L787.5 615.9"/>
<path d="M789.8 617.5L792.2 623.8"/>
<path d="M700.0 601.1L703.9 602.7L707.0 605.8L709.4 609.7L714.1 611.2L718.8 608.9L721.9 605.8L725.0 603.4L728.1 601.1L731.2 600.3L735.2 601.9L739.1 605.0L742.2 608.9L746.9 612.8L751.6 615.2L755.5 617.5L757.8 622.2L758.6 628.4L757.8 634.7L758.6 640.0"/>
<path d="M709.4 609.7L713.3 609.7L717.2 607.3L720.3 607.3L718.8 608.9"/>
<path d="M700.0 601.9L703.1 604.2L706.2 606.6"/>
<path d="M725.0 603.4L725.8 605.0L724.2 604.7"/>
<path d="M759.4 636.2L762.5 635.5L764.1 637.8L761.7 639.4"/>
<path d="M835.9 637.0L836.7 637.3"/>
<path d="M839.1 637.8L839.8 638.1"/>
<path d="M846.9 638.6L847.7 638.9"/>
<path d="M801.2 637.0L805.2 643.3L807.8 648.0L809.4 655.0L809.8 662.8L810.3 670.6L810.9 675.3L809.4 680.0L807.8 683.1L805.2 688.6L801.2 691.7L797.3 694.8L792.7 697.2L788.8 699.1L786.4 700.0L790.3 696.4L794.2 694.8"/>
<path d="M787.5 615.6L789.5 615.2L792.7 619.1L793.8 623.0L792.7 625.3L790.3 622.2L788.4 619.1L787.5 615.6"/>
<path d="M793.4 625.3L798.1 632.3L802.8 639.4L806.7 646.4L808.3 653.4"/>
<path d="M809.8 673.8L808.8 678.4L807.5 681.6"/>
<path d="M758.3 623.8L757.9 625.0L758.5 626.4L758.0 627.7L757.8 629.0L757.6 630.2L757.8 631.6L757.3 632.9L757.6 634.2L757.0 635.5L757.7 636.8L757.1 638.1L757.6 639.3L758.6 640.3L758.8 641.7L760.1 642.4L760.3 643.8L761.1 644.9L761.1 646.3L761.8 647.5L763.1 648.1L763.5 649.5L764.8 650.2L765.1 651.6L766.5 652.2L766.9 653.5L768.0 654.3L768.5 655.6L769.8 656.2L770.1 657.7L771.4 658.3L771.6 659.9L772.4 660.9L773.0 662.1L774.1 662.8L775.3 663.4L776.2 664.5L777.6 664.6L778.6 665.7L778.7 667.1L779.7 668.1L780.2 669.4L781.1 670.3L781.4 671.7L782.6 672.5L783.4 673.2L784.7 673.7L786.0 673.7L787.5 673.5L788.2 674.9L789.7 674.9L790.6 676.0L791.9 676.6L791.9 678.1L793.2 678.8L793.2 680.3L794.1 681.4L794.4 682.7L795.1 683.8L796.1 684.6L797.1 685.4L798.4 684.9L799.8 685.1L800.9 684.2L802.4 684.5L803.3 683.3L804.7 683.3L805.8 682.3L807.3 682.5L808.3 681.6"/>
<path d="M759.1 636.2L761.4 635.5L764.5 637.0L763.8 640.9L762.2 644.1L759.8 641.7L759.1 638.6L759.1 636.2"/>
<path d="M760.9 637.5L762.5 639.4L761.4 641.7"/>
<path d="M770.8 655.0L773.9 654.2L774.7 659.7L775.5 663.6L773.1 663.6L772.3 658.9L770.8 655.0"/>
<path d="M791.1 646.4L795.0 645.3L797.8 648.0L798.1 651.9L796.6 655.3L792.7 654.7L790.0 651.9L791.1 646.4"/>
<path d="M826.2 648.8L827.3 649.5L828.8 649.6L829.8 650.3L830.9 649.6L832.2 649.4L833.5 649.0L834.5 648.1L835.9 648.0L836.9 647.1L838.0 646.3L839.5 646.5L840.5 645.4L841.9 645.6L843.2 645.2L843.6 643.9L844.6 643.0L844.9 641.6L846.3 641.4L847.5 640.8L848.6 640.3L849.9 639.8L851.2 639.9L852.0 640.8L853.5 641.1L854.1 642.4L853.3 642.5L852.1 642.3L850.9 642.1L849.6 642.2L848.4 642.6L847.0 642.6L846.7 644.0L845.3 644.6L844.9 646.0L843.7 646.6L842.5 647.0L841.3 647.6L840.0 647.8L839.0 648.8L837.5 648.7L836.6 649.9L835.3 650.2L834.3 651.0L832.8 650.9L831.7 651.7L830.6 651.3L829.5 650.8L828.3 650.3L827.1 649.7L826.2 648.8"/>
<path d="M832.5 644.8L834.1 647.2L836.4 645.6"/>
<path d="M852.0 640.2L853.2 640.7L854.6 640.6L855.7 641.6L857.1 641.6L858.1 642.4L859.5 642.6L860.5 643.5L861.3 644.5L861.0 645.9L861.7 647.0L861.2 648.4L860.0 649.3L860.1 650.8L858.8 651.6L858.7 653.1L858.4 654.2L859.3 655.2L859.4 656.6L860.6 657.5L859.8 658.2L858.8 657.2L857.5 657.0L856.9 656.2L857.1 654.9L858.0 653.8L857.7 652.3L858.6 651.1L858.3 649.8L858.2 648.5L857.1 647.4L857.3 646.0L856.1 645.1L855.8 643.8L854.6 643.1L854.0 641.9L852.6 641.4L852.0 640.2"/>
<path d="M857.5 644.1L859.8 645.6L859.1 648.8L860.6 649.5"/>
<path d="M846.6 673.0L847.4 674.1L848.5 674.8L849.9 675.2L850.3 676.5L851.3 677.4L851.6 678.9L853.0 679.5L853.0 681.0L853.8 682.1L855.0 682.9L855.4 684.2L856.2 685.3L857.2 686.2L857.5 687.5L858.1 688.7L859.5 689.2L860.4 690.3L861.0 691.5L861.8 692.5L862.1 693.6L863.1 694.7L863.0 696.1L863.5 697.4L862.4 698.4L862.5 699.8L861.7 700.9L861.0 701.9L860.1 700.9L858.8 700.5L857.7 699.7L857.8 698.3L856.9 697.2L856.8 695.8L856.4 694.6L855.7 693.3L854.7 692.5L853.3 692.0L852.8 690.7L851.5 690.2L850.9 688.8L849.7 688.2L848.4 687.8L847.1 687.6L846.0 686.6L844.6 686.8L843.8 686.5L844.1 685.1L844.9 684.0L845.7 683.0L846.4 681.9L846.8 680.6L846.7 679.2L846.9 678.2L847.1 676.7L846.4 675.6L846.7 674.3L846.6 673.0"/>
<path d="M858.3 674.5L862.2 672.5L865.3 671.9L861.4 675.0L858.3 674.5"/>
<path d="M848.1 661.2L851.2 663.6L853.6 665.9L851.2 669.1L852.5 665.9"/>
<path d="M825.2 668.0L825.9 669.1"/>
<path d="M835.6 636.2L836.4 636.7"/>
<path d="M838.8 637.8L839.4 638.3"/>
<path d="M841.1 637.0L841.9 636.7"/>
<path d="M868.4 692.2L869.2 692.3"/>
<path d="M849.7 648.8L850.5 650.3"/>
<path d="M852.8 651.9L853.6 653.4"/>
<path d="M700.0 601.1L705.3 603.4L708.4 606.6L710.0 610.5L714.7 611.2L720.0 608.1"/>
<path d="M700.6 601.1L703.8 603.1L706.9 604.2"/>
</g>
<g fill="none" stroke="#000" stroke-width="1.2" stroke-linejoin="round" stroke-linecap="round">
<path d="M870.9 340.9L872.2 343.0L871.6 345.6L873.4 346.9L874.7 344.5"/>
<path d="M885.8 331.2L888.6 332.0L890.9 334.4L890.2 336.7"/>
<path d="M850.0 639.4L853.9 641.7L857.8 642.5L861.2 644.1L860.9 649.5L858.6 648.8L857.5 645.6L855.5 643.8"/>
<path d="M855.5 642.2L860.2 641.7L861.6 644.1L861.2 648.8L858.6 649.8L856.2 648.0L855.5 642.2"/>
<path d="M857.0 643.8L859.7 643.4L860.0 647.2L857.8 648.0L857.0 643.8"/>
<path d="M858.6 650.3L860.2 658.1L856.2 656.2L858.6 650.3"/>
<path d="M868.0 662.8L871.1 661.6L875.0 664.4L879.7 665.6L882.8 669.1L882.5 673.8L883.6 676.9L879.7 674.5L882.0 673.8"/>
<path d="M868.0 662.8L869.5 665.2L868.0 668.3"/>
<path d="M857.8 674.5L861.7 673.0L865.6 671.4L860.9 675.3L857.8 674.5"/>
<path d="M871.1 675.3L871.9 680.0L874.2 683.1"/>
<path d="M876.6 683.1L880.5 687.0L884.4 690.9L889.1 694.1L895.3 696.4L901.6 697.2L895.3 698.0L891.4 699.5"/>
<path d="M889.8 673.8L894.5 676.9L898.4 680.0L900.8 682.3L897.7 683.9L898.4 681.6"/>
<path d="M902.3 690.9L905.5 694.8L908.6 698.8L910.9 701.1L914.1 703.4L914.8 705.0L911.7 702.7L907.0 700.3"/>
<path d="M914.4 679.2L916.4 678.9L916.9 682.3L914.8 683.1L914.4 679.2"/>
<path d="M909.4 689.4L911.7 688.9"/>
<path d="M905.2 687.3L905.9 687.8"/>
<path d="M887.5 676.9L888.4 677.2"/>
<path d="M923.4 703.4L928.1 703.4L932.8 704.2L934.4 707.3L931.2 711.2L928.9 715.2L928.1 716.2"/>
<path d="M925.0 705.0L926.6 708.1L929.7 709.7L932.0 707.3L930.5 705.0"/>
<path d="M931.6 695.6L934.4 695.2"/>
<path d="M937.5 704.2L940.3 703.4"/>
<path d="M946.9 705.0L954.7 704.5L953.9 705.8L947.7 706.2L946.9 705.0"/>
<path d="M963.3 716.2L964.8 712.8L968.0 710.5L969.5 708.1L973.4 708.9L977.3 709.7L980.5 709.7L980.9 714.4L978.9 716.2"/>
<path d="M969.5 710.5L973.4 711.2L977.3 711.6"/>
<path d="M897.2 705.0L897.3 706.9"/>
<path d="M896.9 708.9L897.0 710.9"/>
<path d="M897.3 712.5L897.5 714.4"/>
<path d="M868.4 692.2L869.2 692.3"/>
<path d="M852.3 651.1L852.8 651.9"/>
<path d="M853.1 655.0L853.8 655.6"/>
<path d="M850.0 665.2L852.3 665.9L852.8 668.3L850.8 669.4"/>
</g>
</g>
<rect x="115.75" y="186.40" width="870.85" height="529.90" fill="none" stroke="#222" stroke-width="1.2"/>
<path d="M235.0 169.4V186.4M417.8 169.4V186.4M594.9 169.4V186.4M778.6 169.4V186.4M977.3 169.4V186.4M287.3 716.3V733.3M464.9 716.3V733.3M641.7 716.3V733.3M822.3 716.3V733.3M98.8 273.0H115.8M98.8 372.2H115.8M98.8 470.5H115.8M98.8 569.8H115.8M98.8 670.0H115.8M986.6 234.2H1003.6M986.6 336.6H1003.6M986.6 437.9H1003.6M986.6 539.0H1003.6M986.6 640.3H1003.6" fill="none" stroke="#222" stroke-width="1.1"/>
<rect x="195.3" y="800.0" width="118.5" height="43.0" fill="#ffffff" stroke="#000" stroke-opacity="0.7" stroke-width="0.6"/><rect x="313.9" y="800.0" width="118.5" height="43.0" fill="#7ab8e6" stroke="#000" stroke-opacity="0.7" stroke-width="0.6"/><rect x="432.4" y="800.0" width="118.5" height="43.0" fill="#4bac64" stroke="#000" stroke-opacity="0.7" stroke-width="0.6"/><rect x="551.0" y="800.0" width="118.5" height="43.0" fill="#f9ce50" stroke="#000" stroke-opacity="0.7" stroke-width="0.6"/><rect x="669.5" y="800.0" width="118.5" height="43.0" fill="#e2402a" stroke="#000" stroke-opacity="0.7" stroke-width="0.6"/><rect x="788.0" y="800.0" width="118.5" height="43.0" fill="#91141a" stroke="#000" stroke-opacity="0.7" stroke-width="0.6"/>
<text x="314.5" y="870.3" text-anchor="middle" font-size="20">0.1</text><text x="433.0" y="870.3" text-anchor="middle" font-size="20">25.1</text><text x="551.6" y="870.3" text-anchor="middle" font-size="20">50.1</text><text x="670.1" y="870.3" text-anchor="middle" font-size="20">75.1</text><text x="788.6" y="870.3" text-anchor="middle" font-size="20">100</text>
<text x="285.5" y="761.8" text-anchor="middle" font-size="28">110°W</text><text x="463.5" y="761.8" text-anchor="middle" font-size="28">100°W</text><text x="640.8" y="761.8" text-anchor="middle" font-size="28">90°W</text><text x="821.5" y="761.8" text-anchor="middle" font-size="28">80°W</text>
<text x="79.5" y="282.5" text-anchor="end" font-size="28">45°N</text><text x="79.5" y="381.7" text-anchor="end" font-size="28">40°N</text><text x="79.5" y="480.0" text-anchor="end" font-size="28">35°N</text><text x="79.5" y="579.3" text-anchor="end" font-size="28">30°N</text><text x="79.5" y="679.5" text-anchor="end" font-size="28">25°N</text>
</svg>
</body></html>
